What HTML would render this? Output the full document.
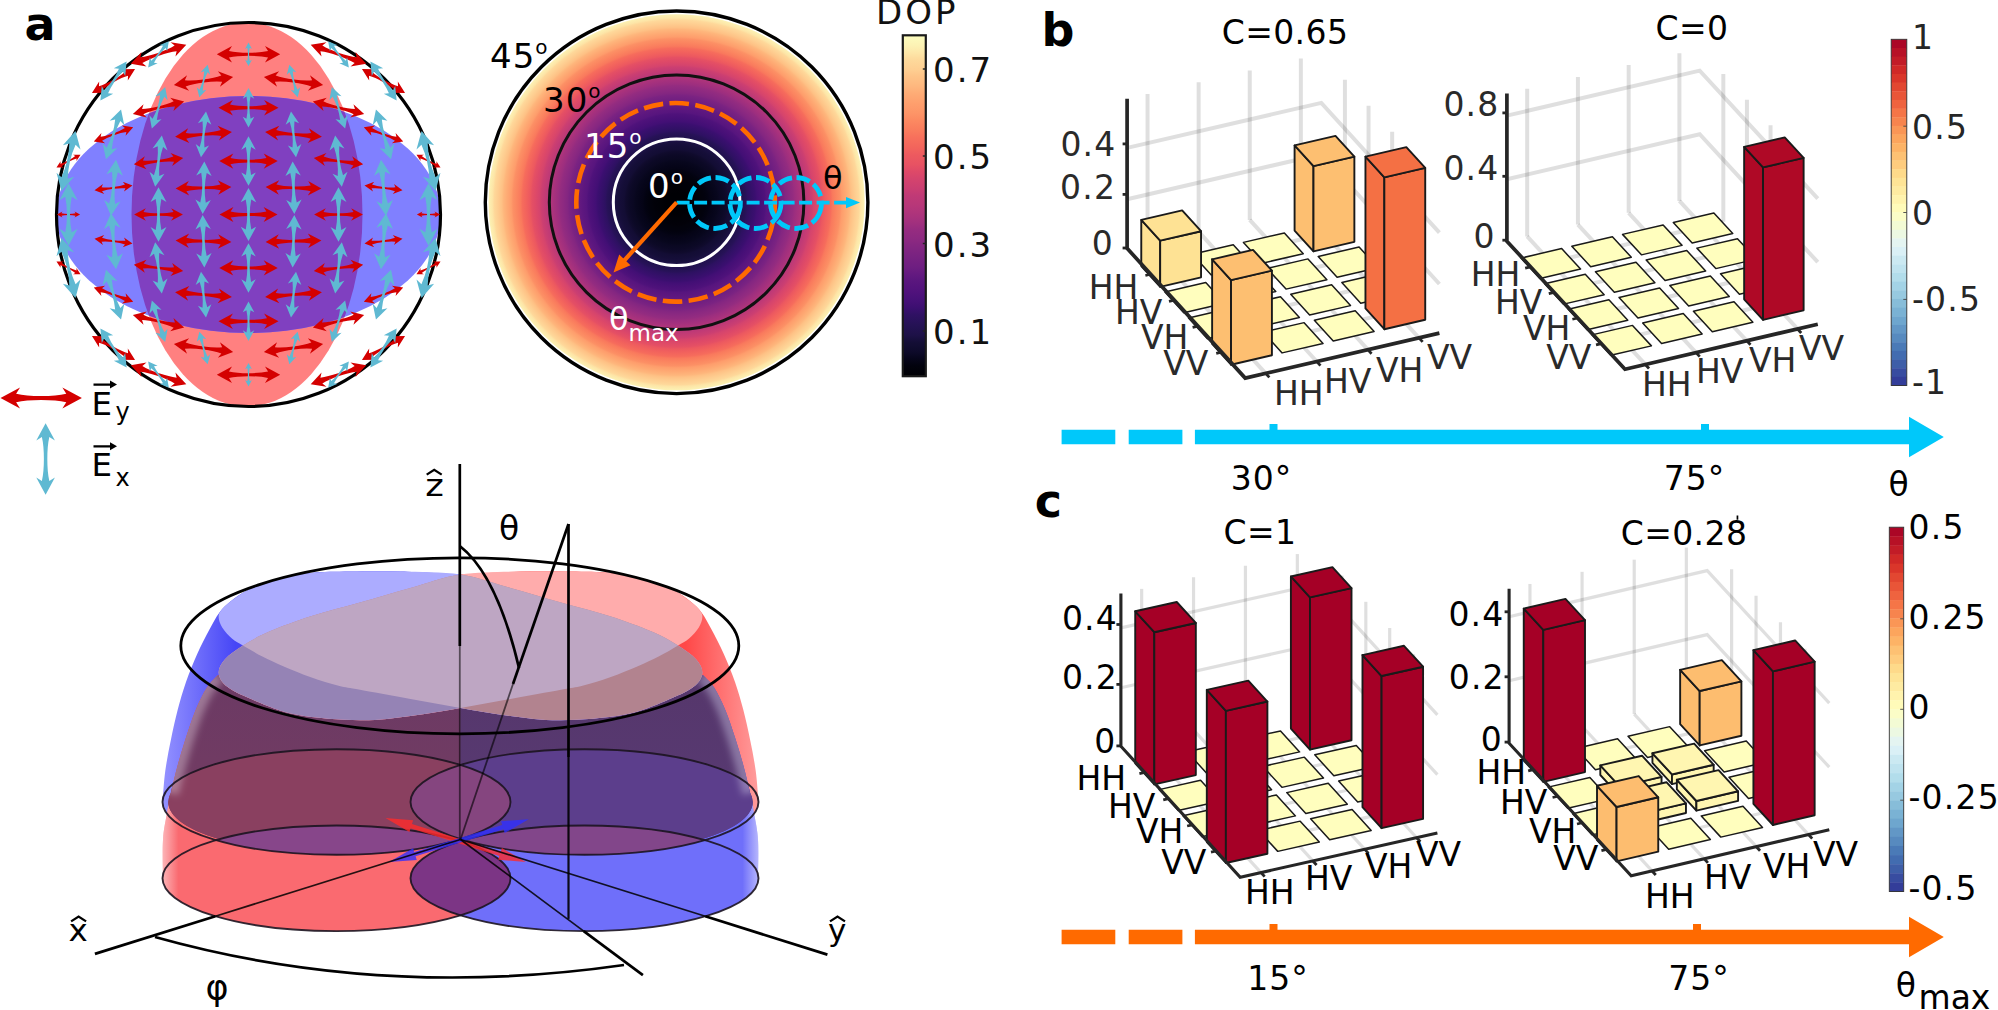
<!DOCTYPE html>
<html><head><meta charset="utf-8"><title>figure</title>
<style>html,body{margin:0;padding:0;background:#fff}svg{display:block}</style></head>
<body>
<svg width="1998" height="1010" viewBox="0 0 1998 1010">
<rect width="1998" height="1010" fill="#fff"/>
<clipPath id="fc"><circle cx="248.5" cy="214.5" r="192"/></clipPath>
<g clip-path="url(#fc)">
<ellipse cx="247.0" cy="214.5" rx="115.5" ry="192" fill="#ff8080"/>
<ellipse cx="248.5" cy="214.5" rx="192" ry="118.5" fill="#8080ff"/>
<clipPath id="fo"><ellipse cx="247.0" cy="214.5" rx="115.5" ry="192"/></clipPath>
<ellipse cx="248.5" cy="214.5" rx="192" ry="118.5" fill="#8040c0" clip-path="url(#fo)"/>
</g>
<circle cx="248.5" cy="214.5" r="192" fill="none" stroke="#000" stroke-width="3.2"/>
<path d="M29.38,0 L15.28,-7.64 L18.1,-3.06 Q11.05,-1.41 0,-1.41 Q-11.05,-1.41 -18.1,-3.06 L-15.28,-7.64 L-29.38,0 L-15.28,7.64 L-18.1,3.06 Q-11.05,1.41 0,1.41 Q11.05,1.41 18.1,3.06 L15.28,7.64 Z" fill="#d40000" transform="translate(158.5,54.3) rotate(-18.87)"/>
<path d="M31.72,0 L16.5,-8.25 L19.54,-3.3 Q11.93,-1.52 0,-1.52 Q-11.93,-1.52 -19.54,-3.3 L-16.5,-8.25 L-31.72,0 L-16.5,8.25 L-19.54,3.3 Q-11.93,1.52 0,1.52 Q11.93,1.52 19.54,3.3 L16.5,8.25 Z" fill="#d40000" transform="translate(248.5,54.3) rotate(0)"/>
<path d="M29.38,0 L15.28,-7.64 L18.1,-3.06 Q11.05,-1.41 0,-1.41 Q-11.05,-1.41 -18.1,-3.06 L-15.28,-7.64 L-29.38,0 L-15.28,7.64 L-18.1,3.06 Q-11.05,1.41 0,1.41 Q11.05,1.41 18.1,3.06 L15.28,7.64 Z" fill="#d40000" transform="translate(338.5,54.3) rotate(18.87)"/>
<path d="M24.65,0 L12.82,-6.41 L15.19,-2.56 Q9.27,-1.18 0,-1.18 Q-9.27,-1.18 -15.19,-2.56 L-12.82,-6.41 L-24.65,0 L-12.82,6.41 L-15.19,2.56 Q-9.27,1.18 0,1.18 Q9.27,1.18 15.19,2.56 L12.82,6.41 Z" fill="#d40000" transform="translate(113.5,81) rotate(-29.01)"/>
<path d="M29.88,0 L15.54,-7.77 L18.4,-3.11 Q11.23,-1.43 0,-1.43 Q-11.23,-1.43 -18.4,-3.11 L-15.54,-7.77 L-29.88,0 L-15.54,7.77 L-18.4,3.11 Q-11.23,1.43 0,1.43 Q11.23,1.43 18.4,3.11 L15.54,7.77 Z" fill="#d40000" transform="translate(203.5,81) rotate(-7.5)"/>
<path d="M29.88,0 L15.54,-7.77 L18.4,-3.11 Q11.23,-1.43 0,-1.43 Q-11.23,-1.43 -18.4,-3.11 L-15.54,-7.77 L-29.88,0 L-15.54,7.77 L-18.4,3.11 Q-11.23,1.43 0,1.43 Q11.23,1.43 18.4,3.11 L15.54,7.77 Z" fill="#d40000" transform="translate(293.5,81) rotate(7.5)"/>
<path d="M24.65,0 L12.82,-6.41 L15.19,-2.56 Q9.27,-1.18 0,-1.18 Q-9.27,-1.18 -15.19,-2.56 L-12.82,-6.41 L-24.65,0 L-12.82,6.41 L-15.19,2.56 Q-9.27,1.18 0,1.18 Q9.27,1.18 15.19,2.56 L12.82,6.41 Z" fill="#d40000" transform="translate(383.5,81) rotate(29.01)"/>
<path d="M26.39,0 L13.72,-6.86 L16.25,-2.74 Q9.92,-1.27 0,-1.27 Q-9.92,-1.27 -16.25,-2.74 L-13.72,-6.86 L-26.39,0 L-13.72,6.86 L-16.25,2.74 Q-9.92,1.27 0,1.27 Q9.92,1.27 16.25,2.74 L13.72,6.86 Z" fill="#d40000" transform="translate(158.5,107.7) rotate(-13.68)"/>
<path d="M30,0 L15.6,-7.8 L18.48,-3.12 Q11.28,-1.44 0,-1.44 Q-11.28,-1.44 -18.48,-3.12 L-15.6,-7.8 L-30,0 L-15.6,7.8 L-18.48,3.12 Q-11.28,1.44 0,1.44 Q11.28,1.44 18.48,3.12 L15.6,7.8 Z" fill="#d40000" transform="translate(248.5,107.7) rotate(0)"/>
<path d="M26.39,0 L13.72,-6.86 L16.25,-2.74 Q9.92,-1.27 0,-1.27 Q-9.92,-1.27 -16.25,-2.74 L-13.72,-6.86 L-26.39,0 L-13.72,6.86 L-16.25,2.74 Q-9.92,1.27 0,1.27 Q9.92,1.27 16.25,2.74 L13.72,6.86 Z" fill="#d40000" transform="translate(338.5,107.7) rotate(13.68)"/>
<path d="M20.94,0 L10.89,-5.44 L12.9,-2.18 Q7.87,-1 0,-1 Q-7.87,-1 -12.9,-2.18 L-10.89,-5.44 L-20.94,0 L-10.89,5.44 L-12.9,2.18 Q-7.87,1 0,1 Q7.87,1 12.9,2.18 L10.89,5.44 Z" fill="#d40000" transform="translate(113.5,134.4) rotate(-19.63)"/>
<path d="M28.5,0 L14.82,-7.41 L17.56,-2.96 Q10.72,-1.37 0,-1.37 Q-10.72,-1.37 -17.56,-2.96 L-14.82,-7.41 L-28.5,0 L-14.82,7.41 L-17.56,2.96 Q-10.72,1.37 0,1.37 Q10.72,1.37 17.56,2.96 L14.82,7.41 Z" fill="#d40000" transform="translate(203.5,134.4) rotate(-4.73)"/>
<path d="M28.5,0 L14.82,-7.41 L17.56,-2.96 Q10.72,-1.37 0,-1.37 Q-10.72,-1.37 -17.56,-2.96 L-14.82,-7.41 L-28.5,0 L-14.82,7.41 L-17.56,2.96 Q-10.72,1.37 0,1.37 Q10.72,1.37 17.56,2.96 L14.82,7.41 Z" fill="#d40000" transform="translate(293.5,134.4) rotate(4.73)"/>
<path d="M20.94,0 L10.89,-5.44 L12.9,-2.18 Q7.87,-1 0,-1 Q-7.87,-1 -12.9,-2.18 L-10.89,-5.44 L-20.94,0 L-10.89,5.44 L-12.9,2.18 Q-7.87,1 0,1 Q7.87,1 12.9,2.18 L10.89,5.44 Z" fill="#d40000" transform="translate(383.5,134.4) rotate(19.63)"/>
<path d="M13.61,0 L7.07,-3.54 L8.38,-1.41 Q5.12,-0.65 0,-0.65 Q-5.12,-0.65 -8.38,-1.41 L-7.07,-3.54 L-13.61,0 L-7.07,3.54 L-8.38,1.41 Q-5.12,0.65 0,0.65 Q5.12,0.65 8.38,1.41 L7.07,3.54 Z" fill="#d40000" transform="translate(68.5,161.1) rotate(-27.87)"/>
<path d="M24.89,0 L12.94,-6.47 L15.33,-2.59 Q9.36,-1.19 0,-1.19 Q-9.36,-1.19 -15.33,-2.59 L-12.94,-6.47 L-24.89,0 L-12.94,6.47 L-15.33,2.59 Q-9.36,1.19 0,1.19 Q9.36,1.19 15.33,2.59 L12.94,6.47 Z" fill="#d40000" transform="translate(158.5,161.1) rotate(-7.21)"/>
<path d="M29.23,0 L15.2,-7.6 L18.01,-3.04 Q10.99,-1.4 0,-1.4 Q-10.99,-1.4 -18.01,-3.04 L-15.2,-7.6 L-29.23,0 L-15.2,7.6 L-18.01,3.04 Q-10.99,1.4 0,1.4 Q10.99,1.4 18.01,3.04 L15.2,7.6 Z" fill="#d40000" transform="translate(248.5,161.1) rotate(0)"/>
<path d="M24.89,0 L12.94,-6.47 L15.33,-2.59 Q9.36,-1.19 0,-1.19 Q-9.36,-1.19 -15.33,-2.59 L-12.94,-6.47 L-24.89,0 L-12.94,6.47 L-15.33,2.59 Q-9.36,1.19 0,1.19 Q9.36,1.19 15.33,2.59 L12.94,6.47 Z" fill="#d40000" transform="translate(338.5,161.1) rotate(7.21)"/>
<path d="M13.61,0 L7.07,-3.54 L8.38,-1.41 Q5.12,-0.65 0,-0.65 Q-5.12,-0.65 -8.38,-1.41 L-7.07,-3.54 L-13.61,0 L-7.07,3.54 L-8.38,1.41 Q-5.12,0.65 0,0.65 Q5.12,0.65 8.38,1.41 L7.07,3.54 Z" fill="#d40000" transform="translate(428.5,161.1) rotate(27.87)"/>
<path d="M19.14,0 L9.95,-4.98 L11.79,-1.99 Q7.2,-0.92 0,-0.92 Q-7.2,-0.92 -11.79,-1.99 L-9.95,-4.98 L-19.14,0 L-9.95,4.98 L-11.79,1.99 Q-7.2,0.92 0,0.92 Q7.2,0.92 11.79,1.99 L9.95,4.98 Z" fill="#d40000" transform="translate(113.5,187.8) rotate(-7.02)"/>
<path d="M27.91,0 L14.51,-7.26 L17.19,-2.9 Q10.49,-1.34 0,-1.34 Q-10.49,-1.34 -17.19,-2.9 L-14.51,-7.26 L-27.91,0 L-14.51,7.26 L-17.19,2.9 Q-10.49,1.34 0,1.34 Q10.49,1.34 17.19,2.9 L14.51,7.26 Z" fill="#d40000" transform="translate(203.5,187.8) rotate(-1.61)"/>
<path d="M27.91,0 L14.51,-7.26 L17.19,-2.9 Q10.49,-1.34 0,-1.34 Q-10.49,-1.34 -17.19,-2.9 L-14.51,-7.26 L-27.91,0 L-14.51,7.26 L-17.19,2.9 Q-10.49,1.34 0,1.34 Q10.49,1.34 17.19,2.9 L14.51,7.26 Z" fill="#d40000" transform="translate(293.5,187.8) rotate(1.61)"/>
<path d="M19.14,0 L9.95,-4.98 L11.79,-1.99 Q7.2,-0.92 0,-0.92 Q-7.2,-0.92 -11.79,-1.99 L-9.95,-4.98 L-19.14,0 L-9.95,4.98 L-11.79,1.99 Q-7.2,0.92 0,0.92 Q7.2,0.92 11.79,1.99 L9.95,4.98 Z" fill="#d40000" transform="translate(383.5,187.8) rotate(7.02)"/>
<path d="M11.58,0 L6.02,-3.01 L7.13,-1.2 Q4.35,-0.56 0,-0.56 Q-4.35,-0.56 -7.13,-1.2 L-6.02,-3.01 L-11.58,0 L-6.02,3.01 L-7.13,1.2 Q-4.35,0.56 0,0.56 Q4.35,0.56 7.13,1.2 L6.02,3.01 Z" fill="#d40000" transform="translate(68.5,214.5) rotate(0)"/>
<path d="M24.41,0 L12.69,-6.35 L15.04,-2.54 Q9.18,-1.17 0,-1.17 Q-9.18,-1.17 -15.04,-2.54 L-12.69,-6.35 L-24.41,0 L-12.69,6.35 L-15.04,2.54 Q-9.18,1.17 0,1.17 Q9.18,1.17 15.04,2.54 L12.69,6.35 Z" fill="#d40000" transform="translate(158.5,214.5) rotate(0)"/>
<path d="M29,0 L15.08,-7.54 L17.86,-3.02 Q10.9,-1.39 0,-1.39 Q-10.9,-1.39 -17.86,-3.02 L-15.08,-7.54 L-29,0 L-15.08,7.54 L-17.86,3.02 Q-10.9,1.39 0,1.39 Q10.9,1.39 17.86,3.02 L15.08,7.54 Z" fill="#d40000" transform="translate(248.5,214.5) rotate(-0)"/>
<path d="M24.41,0 L12.69,-6.35 L15.04,-2.54 Q9.18,-1.17 0,-1.17 Q-9.18,-1.17 -15.04,-2.54 L-12.69,-6.35 L-24.41,0 L-12.69,6.35 L-15.04,2.54 Q-9.18,1.17 0,1.17 Q9.18,1.17 15.04,2.54 L12.69,6.35 Z" fill="#d40000" transform="translate(338.5,214.5) rotate(-0)"/>
<path d="M11.58,0 L6.02,-3.01 L7.13,-1.2 Q4.35,-0.56 0,-0.56 Q-4.35,-0.56 -7.13,-1.2 L-6.02,-3.01 L-11.58,0 L-6.02,3.01 L-7.13,1.2 Q-4.35,0.56 0,0.56 Q4.35,0.56 7.13,1.2 L6.02,3.01 Z" fill="#d40000" transform="translate(428.5,214.5) rotate(-0)"/>
<path d="M19.14,0 L9.95,-4.98 L11.79,-1.99 Q7.2,-0.92 0,-0.92 Q-7.2,-0.92 -11.79,-1.99 L-9.95,-4.98 L-19.14,0 L-9.95,4.98 L-11.79,1.99 Q-7.2,0.92 0,0.92 Q7.2,0.92 11.79,1.99 L9.95,4.98 Z" fill="#d40000" transform="translate(113.5,241.2) rotate(7.02)"/>
<path d="M27.91,0 L14.51,-7.26 L17.19,-2.9 Q10.49,-1.34 0,-1.34 Q-10.49,-1.34 -17.19,-2.9 L-14.51,-7.26 L-27.91,0 L-14.51,7.26 L-17.19,2.9 Q-10.49,1.34 0,1.34 Q10.49,1.34 17.19,2.9 L14.51,7.26 Z" fill="#d40000" transform="translate(203.5,241.2) rotate(1.61)"/>
<path d="M27.91,0 L14.51,-7.26 L17.19,-2.9 Q10.49,-1.34 0,-1.34 Q-10.49,-1.34 -17.19,-2.9 L-14.51,-7.26 L-27.91,0 L-14.51,7.26 L-17.19,2.9 Q-10.49,1.34 0,1.34 Q10.49,1.34 17.19,2.9 L14.51,7.26 Z" fill="#d40000" transform="translate(293.5,241.2) rotate(-1.61)"/>
<path d="M19.14,0 L9.95,-4.98 L11.79,-1.99 Q7.2,-0.92 0,-0.92 Q-7.2,-0.92 -11.79,-1.99 L-9.95,-4.98 L-19.14,0 L-9.95,4.98 L-11.79,1.99 Q-7.2,0.92 0,0.92 Q7.2,0.92 11.79,1.99 L9.95,4.98 Z" fill="#d40000" transform="translate(383.5,241.2) rotate(-7.02)"/>
<path d="M13.61,0 L7.07,-3.54 L8.38,-1.41 Q5.12,-0.65 0,-0.65 Q-5.12,-0.65 -8.38,-1.41 L-7.07,-3.54 L-13.61,0 L-7.07,3.54 L-8.38,1.41 Q-5.12,0.65 0,0.65 Q5.12,0.65 8.38,1.41 L7.07,3.54 Z" fill="#d40000" transform="translate(68.5,267.9) rotate(27.87)"/>
<path d="M24.89,0 L12.94,-6.47 L15.33,-2.59 Q9.36,-1.19 0,-1.19 Q-9.36,-1.19 -15.33,-2.59 L-12.94,-6.47 L-24.89,0 L-12.94,6.47 L-15.33,2.59 Q-9.36,1.19 0,1.19 Q9.36,1.19 15.33,2.59 L12.94,6.47 Z" fill="#d40000" transform="translate(158.5,267.9) rotate(7.21)"/>
<path d="M29.23,0 L15.2,-7.6 L18.01,-3.04 Q10.99,-1.4 0,-1.4 Q-10.99,-1.4 -18.01,-3.04 L-15.2,-7.6 L-29.23,0 L-15.2,7.6 L-18.01,3.04 Q-10.99,1.4 0,1.4 Q10.99,1.4 18.01,3.04 L15.2,7.6 Z" fill="#d40000" transform="translate(248.5,267.9) rotate(-0)"/>
<path d="M24.89,0 L12.94,-6.47 L15.33,-2.59 Q9.36,-1.19 0,-1.19 Q-9.36,-1.19 -15.33,-2.59 L-12.94,-6.47 L-24.89,0 L-12.94,6.47 L-15.33,2.59 Q-9.36,1.19 0,1.19 Q9.36,1.19 15.33,2.59 L12.94,6.47 Z" fill="#d40000" transform="translate(338.5,267.9) rotate(-7.21)"/>
<path d="M13.61,0 L7.07,-3.54 L8.38,-1.41 Q5.12,-0.65 0,-0.65 Q-5.12,-0.65 -8.38,-1.41 L-7.07,-3.54 L-13.61,0 L-7.07,3.54 L-8.38,1.41 Q-5.12,0.65 0,0.65 Q5.12,0.65 8.38,1.41 L7.07,3.54 Z" fill="#d40000" transform="translate(428.5,267.9) rotate(-27.87)"/>
<path d="M20.94,0 L10.89,-5.44 L12.9,-2.18 Q7.87,-1 0,-1 Q-7.87,-1 -12.9,-2.18 L-10.89,-5.44 L-20.94,0 L-10.89,5.44 L-12.9,2.18 Q-7.87,1 0,1 Q7.87,1 12.9,2.18 L10.89,5.44 Z" fill="#d40000" transform="translate(113.5,294.6) rotate(19.63)"/>
<path d="M28.5,0 L14.82,-7.41 L17.56,-2.96 Q10.72,-1.37 0,-1.37 Q-10.72,-1.37 -17.56,-2.96 L-14.82,-7.41 L-28.5,0 L-14.82,7.41 L-17.56,2.96 Q-10.72,1.37 0,1.37 Q10.72,1.37 17.56,2.96 L14.82,7.41 Z" fill="#d40000" transform="translate(203.5,294.6) rotate(4.73)"/>
<path d="M28.5,0 L14.82,-7.41 L17.56,-2.96 Q10.72,-1.37 0,-1.37 Q-10.72,-1.37 -17.56,-2.96 L-14.82,-7.41 L-28.5,0 L-14.82,7.41 L-17.56,2.96 Q-10.72,1.37 0,1.37 Q10.72,1.37 17.56,2.96 L14.82,7.41 Z" fill="#d40000" transform="translate(293.5,294.6) rotate(-4.73)"/>
<path d="M20.94,0 L10.89,-5.44 L12.9,-2.18 Q7.87,-1 0,-1 Q-7.87,-1 -12.9,-2.18 L-10.89,-5.44 L-20.94,0 L-10.89,5.44 L-12.9,2.18 Q-7.87,1 0,1 Q7.87,1 12.9,2.18 L10.89,5.44 Z" fill="#d40000" transform="translate(383.5,294.6) rotate(-19.63)"/>
<path d="M26.39,0 L13.72,-6.86 L16.25,-2.74 Q9.92,-1.27 0,-1.27 Q-9.92,-1.27 -16.25,-2.74 L-13.72,-6.86 L-26.39,0 L-13.72,6.86 L-16.25,2.74 Q-9.92,1.27 0,1.27 Q9.92,1.27 16.25,2.74 L13.72,6.86 Z" fill="#d40000" transform="translate(158.5,321.3) rotate(13.68)"/>
<path d="M30,0 L15.6,-7.8 L18.48,-3.12 Q11.28,-1.44 0,-1.44 Q-11.28,-1.44 -18.48,-3.12 L-15.6,-7.8 L-30,0 L-15.6,7.8 L-18.48,3.12 Q-11.28,1.44 0,1.44 Q11.28,1.44 18.48,3.12 L15.6,7.8 Z" fill="#d40000" transform="translate(248.5,321.3) rotate(-0)"/>
<path d="M26.39,0 L13.72,-6.86 L16.25,-2.74 Q9.92,-1.27 0,-1.27 Q-9.92,-1.27 -16.25,-2.74 L-13.72,-6.86 L-26.39,0 L-13.72,6.86 L-16.25,2.74 Q-9.92,1.27 0,1.27 Q9.92,1.27 16.25,2.74 L13.72,6.86 Z" fill="#d40000" transform="translate(338.5,321.3) rotate(-13.68)"/>
<path d="M24.65,0 L12.82,-6.41 L15.19,-2.56 Q9.27,-1.18 0,-1.18 Q-9.27,-1.18 -15.19,-2.56 L-12.82,-6.41 L-24.65,0 L-12.82,6.41 L-15.19,2.56 Q-9.27,1.18 0,1.18 Q9.27,1.18 15.19,2.56 L12.82,6.41 Z" fill="#d40000" transform="translate(113.5,348) rotate(29.01)"/>
<path d="M29.88,0 L15.54,-7.77 L18.4,-3.11 Q11.23,-1.43 0,-1.43 Q-11.23,-1.43 -18.4,-3.11 L-15.54,-7.77 L-29.88,0 L-15.54,7.77 L-18.4,3.11 Q-11.23,1.43 0,1.43 Q11.23,1.43 18.4,3.11 L15.54,7.77 Z" fill="#d40000" transform="translate(203.5,348) rotate(7.5)"/>
<path d="M29.88,0 L15.54,-7.77 L18.4,-3.11 Q11.23,-1.43 0,-1.43 Q-11.23,-1.43 -18.4,-3.11 L-15.54,-7.77 L-29.88,0 L-15.54,7.77 L-18.4,3.11 Q-11.23,1.43 0,1.43 Q11.23,1.43 18.4,3.11 L15.54,7.77 Z" fill="#d40000" transform="translate(293.5,348) rotate(-7.5)"/>
<path d="M24.65,0 L12.82,-6.41 L15.19,-2.56 Q9.27,-1.18 0,-1.18 Q-9.27,-1.18 -15.19,-2.56 L-12.82,-6.41 L-24.65,0 L-12.82,6.41 L-15.19,2.56 Q-9.27,1.18 0,1.18 Q9.27,1.18 15.19,2.56 L12.82,6.41 Z" fill="#d40000" transform="translate(383.5,348) rotate(-29.01)"/>
<path d="M29.38,0 L15.28,-7.64 L18.1,-3.06 Q11.05,-1.41 0,-1.41 Q-11.05,-1.41 -18.1,-3.06 L-15.28,-7.64 L-29.38,0 L-15.28,7.64 L-18.1,3.06 Q-11.05,1.41 0,1.41 Q11.05,1.41 18.1,3.06 L15.28,7.64 Z" fill="#d40000" transform="translate(158.5,374.7) rotate(18.87)"/>
<path d="M31.72,0 L16.5,-8.25 L19.54,-3.3 Q11.93,-1.52 0,-1.52 Q-11.93,-1.52 -19.54,-3.3 L-16.5,-8.25 L-31.72,0 L-16.5,8.25 L-19.54,3.3 Q-11.93,1.52 0,1.52 Q11.93,1.52 19.54,3.3 L16.5,8.25 Z" fill="#d40000" transform="translate(248.5,374.7) rotate(-0)"/>
<path d="M29.38,0 L15.28,-7.64 L18.1,-3.06 Q11.05,-1.41 0,-1.41 Q-11.05,-1.41 -18.1,-3.06 L-15.28,-7.64 L-29.38,0 L-15.28,7.64 L-18.1,3.06 Q-11.05,1.41 0,1.41 Q11.05,1.41 18.1,3.06 L15.28,7.64 Z" fill="#d40000" transform="translate(338.5,374.7) rotate(-18.87)"/>
<path d="M16.73,0 L7.66,-4.92 L9.47,-1.74 Q4.93,-0.8 0,-0.8 Q-4.93,-0.8 -9.47,-1.74 L-7.66,-4.92 L-16.73,0 L-7.66,4.92 L-9.47,1.74 Q-4.93,0.8 0,0.8 Q4.93,0.8 9.47,1.74 L7.66,4.92 Z" fill="#5fb9d2" transform="translate(158.5,54.3) rotate(128.2)"/>
<path d="M11.7,0 L5.35,-3.44 L6.62,-1.22 Q3.45,-0.56 0,-0.56 Q-3.45,-0.56 -6.62,-1.22 L-5.35,-3.44 L-11.7,0 L-5.35,3.44 L-6.62,1.22 Q-3.45,0.56 0,0.56 Q3.45,0.56 6.62,1.22 L5.35,3.44 Z" fill="#5fb9d2" transform="translate(248.5,54.3) rotate(90)"/>
<path d="M16.73,0 L7.66,-4.92 L9.47,-1.74 Q4.93,-0.8 0,-0.8 Q-4.93,-0.8 -9.47,-1.74 L-7.66,-4.92 L-16.73,0 L-7.66,4.92 L-9.47,1.74 Q-4.93,0.8 0,0.8 Q4.93,0.8 9.47,1.74 L7.66,4.92 Z" fill="#5fb9d2" transform="translate(338.5,54.3) rotate(51.8)"/>
<path d="M23.41,0 L10.71,-6.88 L13.25,-2.43 Q6.9,-1.12 0,-1.12 Q-6.9,-1.12 -13.25,-2.43 L-10.71,-6.88 L-23.41,0 L-10.71,6.88 L-13.25,2.43 Q-6.9,1.12 0,1.12 Q6.9,1.12 13.25,2.43 L10.71,6.88 Z" fill="#5fb9d2" transform="translate(113.5,81) rotate(124.1)"/>
<path d="M16.82,0 L7.7,-4.94 L9.52,-1.75 Q4.96,-0.81 0,-0.81 Q-4.96,-0.81 -9.52,-1.75 L-7.7,-4.94 L-16.82,0 L-7.7,4.94 L-9.52,1.75 Q-4.96,0.81 0,0.81 Q4.96,0.81 9.52,1.75 L7.7,4.94 Z" fill="#5fb9d2" transform="translate(203.5,81) rotate(104.35)"/>
<path d="M16.82,0 L7.7,-4.94 L9.52,-1.75 Q4.96,-0.81 0,-0.81 Q-4.96,-0.81 -9.52,-1.75 L-7.7,-4.94 L-16.82,0 L-7.7,4.94 L-9.52,1.75 Q-4.96,0.81 0,0.81 Q4.96,0.81 9.52,1.75 L7.7,4.94 Z" fill="#5fb9d2" transform="translate(293.5,81) rotate(75.65)"/>
<path d="M23.41,0 L10.71,-6.88 L13.25,-2.43 Q6.9,-1.12 0,-1.12 Q-6.9,-1.12 -13.25,-2.43 L-10.71,-6.88 L-23.41,0 L-10.71,6.88 L-13.25,2.43 Q-6.9,1.12 0,1.12 Q6.9,1.12 13.25,2.43 L10.71,6.88 Z" fill="#5fb9d2" transform="translate(383.5,81) rotate(55.9)"/>
<path d="M21.75,0 L9.95,-6.39 L12.31,-2.26 Q6.41,-1.04 0,-1.04 Q-6.41,-1.04 -12.31,-2.26 L-9.95,-6.39 L-21.75,0 L-9.95,6.39 L-12.31,2.26 Q-6.41,1.04 0,1.04 Q6.41,1.04 12.31,2.26 L9.95,6.39 Z" fill="#5fb9d2" transform="translate(158.5,107.7) rotate(107.86)"/>
<path d="M19.68,0 L9.01,-5.78 L11.14,-2.05 Q5.8,-0.94 0,-0.94 Q-5.8,-0.94 -11.14,-2.05 L-9.01,-5.78 L-19.68,0 L-9.01,5.78 L-11.14,2.05 Q-5.8,0.94 0,0.94 Q5.8,0.94 11.14,2.05 L9.01,5.78 Z" fill="#5fb9d2" transform="translate(248.5,107.7) rotate(90)"/>
<path d="M21.75,0 L9.95,-6.39 L12.31,-2.26 Q6.41,-1.04 0,-1.04 Q-6.41,-1.04 -12.31,-2.26 L-9.95,-6.39 L-21.75,0 L-9.95,6.39 L-12.31,2.26 Q-6.41,1.04 0,1.04 Q6.41,1.04 12.31,2.26 L9.95,6.39 Z" fill="#5fb9d2" transform="translate(338.5,107.7) rotate(72.14)"/>
<path d="M26.08,0 L11.93,-7.66 L14.76,-2.71 Q7.69,-1.25 0,-1.25 Q-7.69,-1.25 -14.76,-2.71 L-11.93,-7.66 L-26.08,0 L-11.93,7.66 L-14.76,2.71 Q-7.69,1.25 0,1.25 Q7.69,1.25 14.76,2.71 L11.93,7.66 Z" fill="#5fb9d2" transform="translate(113.5,134.4) rotate(106.81)"/>
<path d="M22.96,0 L10.51,-6.75 L13,-2.39 Q6.77,-1.1 0,-1.1 Q-6.77,-1.1 -13,-2.39 L-10.51,-6.75 L-22.96,0 L-10.51,6.75 L-13,2.39 Q-6.77,1.1 0,1.1 Q6.77,1.1 13,2.39 L10.51,6.75 Z" fill="#5fb9d2" transform="translate(203.5,134.4) rotate(96.26)"/>
<path d="M22.96,0 L10.51,-6.75 L13,-2.39 Q6.77,-1.1 0,-1.1 Q-6.77,-1.1 -13,-2.39 L-10.51,-6.75 L-22.96,0 L-10.51,6.75 L-13,2.39 Q-6.77,1.1 0,1.1 Q6.77,1.1 13,2.39 L10.51,6.75 Z" fill="#5fb9d2" transform="translate(293.5,134.4) rotate(83.74)"/>
<path d="M26.08,0 L11.93,-7.66 L14.76,-2.71 Q7.69,-1.25 0,-1.25 Q-7.69,-1.25 -14.76,-2.71 L-11.93,-7.66 L-26.08,0 L-11.93,7.66 L-14.76,2.71 Q-7.69,1.25 0,1.25 Q7.69,1.25 14.76,2.71 L11.93,7.66 Z" fill="#5fb9d2" transform="translate(383.5,134.4) rotate(73.19)"/>
<path d="M30.8,0 L14.09,-9.05 L17.44,-3.2 Q9.08,-1.48 0,-1.48 Q-9.08,-1.48 -17.44,-3.2 L-14.09,-9.05 L-30.8,0 L-14.09,9.05 L-17.44,3.2 Q-9.08,1.48 0,1.48 Q9.08,1.48 17.44,3.2 L14.09,9.05 Z" fill="#5fb9d2" transform="translate(68.5,161.1) rotate(103.06)"/>
<path d="M25.78,0 L11.8,-7.58 L14.6,-2.68 Q7.6,-1.24 0,-1.24 Q-7.6,-1.24 -14.6,-2.68 L-11.8,-7.58 L-25.78,0 L-11.8,7.58 L-14.6,2.68 Q-7.6,1.24 0,1.24 Q7.6,1.24 14.6,2.68 L11.8,7.58 Z" fill="#5fb9d2" transform="translate(158.5,161.1) rotate(97.43)"/>
<path d="M24.76,0 L11.33,-7.27 L14.01,-2.57 Q7.3,-1.19 0,-1.19 Q-7.3,-1.19 -14.01,-2.57 L-11.33,-7.27 L-24.76,0 L-11.33,7.27 L-14.01,2.57 Q-7.3,1.19 0,1.19 Q7.3,1.19 14.01,2.57 L11.33,7.27 Z" fill="#5fb9d2" transform="translate(248.5,161.1) rotate(90)"/>
<path d="M25.78,0 L11.8,-7.58 L14.6,-2.68 Q7.6,-1.24 0,-1.24 Q-7.6,-1.24 -14.6,-2.68 L-11.8,-7.58 L-25.78,0 L-11.8,7.58 L-14.6,2.68 Q-7.6,1.24 0,1.24 Q7.6,1.24 14.6,2.68 L11.8,7.58 Z" fill="#5fb9d2" transform="translate(338.5,161.1) rotate(82.57)"/>
<path d="M30.8,0 L14.09,-9.05 L17.44,-3.2 Q9.08,-1.48 0,-1.48 Q-9.08,-1.48 -17.44,-3.2 L-14.09,-9.05 L-30.8,0 L-14.09,9.05 L-17.44,3.2 Q-9.08,1.48 0,1.48 Q9.08,1.48 17.44,3.2 L14.09,9.05 Z" fill="#5fb9d2" transform="translate(428.5,161.1) rotate(76.94)"/>
<path d="M28.15,0 L12.88,-8.27 L15.94,-2.93 Q8.3,-1.35 0,-1.35 Q-8.3,-1.35 -15.94,-2.93 L-12.88,-8.27 L-28.15,0 L-12.88,8.27 L-15.94,2.93 Q-8.3,1.35 0,1.35 Q8.3,1.35 15.94,2.93 L12.88,8.27 Z" fill="#5fb9d2" transform="translate(113.5,187.8) rotate(95.1)"/>
<path d="M26.25,0 L12.01,-7.71 L14.86,-2.73 Q7.74,-1.26 0,-1.26 Q-7.74,-1.26 -14.86,-2.73 L-12.01,-7.71 L-26.25,0 L-12.01,7.71 L-14.86,2.73 Q-7.74,1.26 0,1.26 Q7.74,1.26 14.86,2.73 L12.01,7.71 Z" fill="#5fb9d2" transform="translate(203.5,187.8) rotate(91.83)"/>
<path d="M26.25,0 L12.01,-7.71 L14.86,-2.73 Q7.74,-1.26 0,-1.26 Q-7.74,-1.26 -14.86,-2.73 L-12.01,-7.71 L-26.25,0 L-12.01,7.71 L-14.86,2.73 Q-7.74,1.26 0,1.26 Q7.74,1.26 14.86,2.73 L12.01,7.71 Z" fill="#5fb9d2" transform="translate(293.5,187.8) rotate(88.17)"/>
<path d="M28.15,0 L12.88,-8.27 L15.94,-2.93 Q8.3,-1.35 0,-1.35 Q-8.3,-1.35 -15.94,-2.93 L-12.88,-8.27 L-28.15,0 L-12.88,8.27 L-15.94,2.93 Q-8.3,1.35 0,1.35 Q8.3,1.35 15.94,2.93 L12.88,8.27 Z" fill="#5fb9d2" transform="translate(383.5,187.8) rotate(84.9)"/>
<path d="M31.17,0 L14.26,-9.16 L17.64,-3.24 Q9.19,-1.5 0,-1.5 Q-9.19,-1.5 -17.64,-3.24 L-14.26,-9.16 L-31.17,0 L-14.26,9.16 L-17.64,3.24 Q-9.19,1.5 0,1.5 Q9.19,1.5 17.64,3.24 L14.26,9.16 Z" fill="#5fb9d2" transform="translate(68.5,214.5) rotate(90)"/>
<path d="M27.25,0 L12.47,-8.01 L15.42,-2.83 Q8.03,-1.31 0,-1.31 Q-8.03,-1.31 -15.42,-2.83 L-12.47,-8.01 L-27.25,0 L-12.47,8.01 L-15.42,2.83 Q-8.03,1.31 0,1.31 Q8.03,1.31 15.42,2.83 L12.47,8.01 Z" fill="#5fb9d2" transform="translate(158.5,214.5) rotate(90)"/>
<path d="M26.5,0 L12.13,-7.79 L15,-2.76 Q7.81,-1.27 0,-1.27 Q-7.81,-1.27 -15,-2.76 L-12.13,-7.79 L-26.5,0 L-12.13,7.79 L-15,2.76 Q-7.81,1.27 0,1.27 Q7.81,1.27 15,2.76 L12.13,7.79 Z" fill="#5fb9d2" transform="translate(248.5,214.5) rotate(90)"/>
<path d="M27.25,0 L12.47,-8.01 L15.42,-2.83 Q8.03,-1.31 0,-1.31 Q-8.03,-1.31 -15.42,-2.83 L-12.47,-8.01 L-27.25,0 L-12.47,8.01 L-15.42,2.83 Q-8.03,1.31 0,1.31 Q8.03,1.31 15.42,2.83 L12.47,8.01 Z" fill="#5fb9d2" transform="translate(338.5,214.5) rotate(90)"/>
<path d="M31.17,0 L14.26,-9.16 L17.64,-3.24 Q9.19,-1.5 0,-1.5 Q-9.19,-1.5 -17.64,-3.24 L-14.26,-9.16 L-31.17,0 L-14.26,9.16 L-17.64,3.24 Q-9.19,1.5 0,1.5 Q9.19,1.5 17.64,3.24 L14.26,9.16 Z" fill="#5fb9d2" transform="translate(428.5,214.5) rotate(90)"/>
<path d="M28.15,0 L12.88,-8.27 L15.94,-2.93 Q8.3,-1.35 0,-1.35 Q-8.3,-1.35 -15.94,-2.93 L-12.88,-8.27 L-28.15,0 L-12.88,8.27 L-15.94,2.93 Q-8.3,1.35 0,1.35 Q8.3,1.35 15.94,2.93 L12.88,8.27 Z" fill="#5fb9d2" transform="translate(113.5,241.2) rotate(84.9)"/>
<path d="M26.25,0 L12.01,-7.71 L14.86,-2.73 Q7.74,-1.26 0,-1.26 Q-7.74,-1.26 -14.86,-2.73 L-12.01,-7.71 L-26.25,0 L-12.01,7.71 L-14.86,2.73 Q-7.74,1.26 0,1.26 Q7.74,1.26 14.86,2.73 L12.01,7.71 Z" fill="#5fb9d2" transform="translate(203.5,241.2) rotate(88.17)"/>
<path d="M26.25,0 L12.01,-7.71 L14.86,-2.73 Q7.74,-1.26 0,-1.26 Q-7.74,-1.26 -14.86,-2.73 L-12.01,-7.71 L-26.25,0 L-12.01,7.71 L-14.86,2.73 Q-7.74,1.26 0,1.26 Q7.74,1.26 14.86,2.73 L12.01,7.71 Z" fill="#5fb9d2" transform="translate(293.5,241.2) rotate(91.83)"/>
<path d="M28.15,0 L12.88,-8.27 L15.94,-2.93 Q8.3,-1.35 0,-1.35 Q-8.3,-1.35 -15.94,-2.93 L-12.88,-8.27 L-28.15,0 L-12.88,8.27 L-15.94,2.93 Q-8.3,1.35 0,1.35 Q8.3,1.35 15.94,2.93 L12.88,8.27 Z" fill="#5fb9d2" transform="translate(383.5,241.2) rotate(95.1)"/>
<path d="M30.8,0 L14.09,-9.05 L17.44,-3.2 Q9.08,-1.48 0,-1.48 Q-9.08,-1.48 -17.44,-3.2 L-14.09,-9.05 L-30.8,0 L-14.09,9.05 L-17.44,3.2 Q-9.08,1.48 0,1.48 Q9.08,1.48 17.44,3.2 L14.09,9.05 Z" fill="#5fb9d2" transform="translate(68.5,267.9) rotate(76.94)"/>
<path d="M25.78,0 L11.8,-7.58 L14.6,-2.68 Q7.6,-1.24 0,-1.24 Q-7.6,-1.24 -14.6,-2.68 L-11.8,-7.58 L-25.78,0 L-11.8,7.58 L-14.6,2.68 Q-7.6,1.24 0,1.24 Q7.6,1.24 14.6,2.68 L11.8,7.58 Z" fill="#5fb9d2" transform="translate(158.5,267.9) rotate(82.57)"/>
<path d="M24.76,0 L11.33,-7.27 L14.01,-2.57 Q7.3,-1.19 0,-1.19 Q-7.3,-1.19 -14.01,-2.57 L-11.33,-7.27 L-24.76,0 L-11.33,7.27 L-14.01,2.57 Q-7.3,1.19 0,1.19 Q7.3,1.19 14.01,2.57 L11.33,7.27 Z" fill="#5fb9d2" transform="translate(248.5,267.9) rotate(90)"/>
<path d="M25.78,0 L11.8,-7.58 L14.6,-2.68 Q7.6,-1.24 0,-1.24 Q-7.6,-1.24 -14.6,-2.68 L-11.8,-7.58 L-25.78,0 L-11.8,7.58 L-14.6,2.68 Q-7.6,1.24 0,1.24 Q7.6,1.24 14.6,2.68 L11.8,7.58 Z" fill="#5fb9d2" transform="translate(338.5,267.9) rotate(97.43)"/>
<path d="M30.8,0 L14.09,-9.05 L17.44,-3.2 Q9.08,-1.48 0,-1.48 Q-9.08,-1.48 -17.44,-3.2 L-14.09,-9.05 L-30.8,0 L-14.09,9.05 L-17.44,3.2 Q-9.08,1.48 0,1.48 Q9.08,1.48 17.44,3.2 L14.09,9.05 Z" fill="#5fb9d2" transform="translate(428.5,267.9) rotate(103.06)"/>
<path d="M26.08,0 L11.93,-7.66 L14.76,-2.71 Q7.69,-1.25 0,-1.25 Q-7.69,-1.25 -14.76,-2.71 L-11.93,-7.66 L-26.08,0 L-11.93,7.66 L-14.76,2.71 Q-7.69,1.25 0,1.25 Q7.69,1.25 14.76,2.71 L11.93,7.66 Z" fill="#5fb9d2" transform="translate(113.5,294.6) rotate(73.19)"/>
<path d="M22.96,0 L10.51,-6.75 L13,-2.39 Q6.77,-1.1 0,-1.1 Q-6.77,-1.1 -13,-2.39 L-10.51,-6.75 L-22.96,0 L-10.51,6.75 L-13,2.39 Q-6.77,1.1 0,1.1 Q6.77,1.1 13,2.39 L10.51,6.75 Z" fill="#5fb9d2" transform="translate(203.5,294.6) rotate(83.74)"/>
<path d="M22.96,0 L10.51,-6.75 L13,-2.39 Q6.77,-1.1 0,-1.1 Q-6.77,-1.1 -13,-2.39 L-10.51,-6.75 L-22.96,0 L-10.51,6.75 L-13,2.39 Q-6.77,1.1 0,1.1 Q6.77,1.1 13,2.39 L10.51,6.75 Z" fill="#5fb9d2" transform="translate(293.5,294.6) rotate(96.26)"/>
<path d="M26.08,0 L11.93,-7.66 L14.76,-2.71 Q7.69,-1.25 0,-1.25 Q-7.69,-1.25 -14.76,-2.71 L-11.93,-7.66 L-26.08,0 L-11.93,7.66 L-14.76,2.71 Q-7.69,1.25 0,1.25 Q7.69,1.25 14.76,2.71 L11.93,7.66 Z" fill="#5fb9d2" transform="translate(383.5,294.6) rotate(106.81)"/>
<path d="M21.75,0 L9.95,-6.39 L12.31,-2.26 Q6.41,-1.04 0,-1.04 Q-6.41,-1.04 -12.31,-2.26 L-9.95,-6.39 L-21.75,0 L-9.95,6.39 L-12.31,2.26 Q-6.41,1.04 0,1.04 Q6.41,1.04 12.31,2.26 L9.95,6.39 Z" fill="#5fb9d2" transform="translate(158.5,321.3) rotate(72.14)"/>
<path d="M19.68,0 L9.01,-5.78 L11.14,-2.05 Q5.8,-0.94 0,-0.94 Q-5.8,-0.94 -11.14,-2.05 L-9.01,-5.78 L-19.68,0 L-9.01,5.78 L-11.14,2.05 Q-5.8,0.94 0,0.94 Q5.8,0.94 11.14,2.05 L9.01,5.78 Z" fill="#5fb9d2" transform="translate(248.5,321.3) rotate(90)"/>
<path d="M21.75,0 L9.95,-6.39 L12.31,-2.26 Q6.41,-1.04 0,-1.04 Q-6.41,-1.04 -12.31,-2.26 L-9.95,-6.39 L-21.75,0 L-9.95,6.39 L-12.31,2.26 Q-6.41,1.04 0,1.04 Q6.41,1.04 12.31,2.26 L9.95,6.39 Z" fill="#5fb9d2" transform="translate(338.5,321.3) rotate(107.86)"/>
<path d="M23.41,0 L10.71,-6.88 L13.25,-2.43 Q6.9,-1.12 0,-1.12 Q-6.9,-1.12 -13.25,-2.43 L-10.71,-6.88 L-23.41,0 L-10.71,6.88 L-13.25,2.43 Q-6.9,1.12 0,1.12 Q6.9,1.12 13.25,2.43 L10.71,6.88 Z" fill="#5fb9d2" transform="translate(113.5,348) rotate(55.9)"/>
<path d="M16.82,0 L7.7,-4.94 L9.52,-1.75 Q4.96,-0.81 0,-0.81 Q-4.96,-0.81 -9.52,-1.75 L-7.7,-4.94 L-16.82,0 L-7.7,4.94 L-9.52,1.75 Q-4.96,0.81 0,0.81 Q4.96,0.81 9.52,1.75 L7.7,4.94 Z" fill="#5fb9d2" transform="translate(203.5,348) rotate(75.65)"/>
<path d="M16.82,0 L7.7,-4.94 L9.52,-1.75 Q4.96,-0.81 0,-0.81 Q-4.96,-0.81 -9.52,-1.75 L-7.7,-4.94 L-16.82,0 L-7.7,4.94 L-9.52,1.75 Q-4.96,0.81 0,0.81 Q4.96,0.81 9.52,1.75 L7.7,4.94 Z" fill="#5fb9d2" transform="translate(293.5,348) rotate(104.35)"/>
<path d="M23.41,0 L10.71,-6.88 L13.25,-2.43 Q6.9,-1.12 0,-1.12 Q-6.9,-1.12 -13.25,-2.43 L-10.71,-6.88 L-23.41,0 L-10.71,6.88 L-13.25,2.43 Q-6.9,1.12 0,1.12 Q6.9,1.12 13.25,2.43 L10.71,6.88 Z" fill="#5fb9d2" transform="translate(383.5,348) rotate(124.1)"/>
<path d="M16.73,0 L7.66,-4.92 L9.47,-1.74 Q4.93,-0.8 0,-0.8 Q-4.93,-0.8 -9.47,-1.74 L-7.66,-4.92 L-16.73,0 L-7.66,4.92 L-9.47,1.74 Q-4.93,0.8 0,0.8 Q4.93,0.8 9.47,1.74 L7.66,4.92 Z" fill="#5fb9d2" transform="translate(158.5,374.7) rotate(51.8)"/>
<path d="M11.7,0 L5.35,-3.44 L6.62,-1.22 Q3.45,-0.56 0,-0.56 Q-3.45,-0.56 -6.62,-1.22 L-5.35,-3.44 L-11.7,0 L-5.35,3.44 L-6.62,1.22 Q-3.45,0.56 0,0.56 Q3.45,0.56 6.62,1.22 L5.35,3.44 Z" fill="#5fb9d2" transform="translate(248.5,374.7) rotate(90)"/>
<path d="M16.73,0 L7.66,-4.92 L9.47,-1.74 Q4.93,-0.8 0,-0.8 Q-4.93,-0.8 -9.47,-1.74 L-7.66,-4.92 L-16.73,0 L-7.66,4.92 L-9.47,1.74 Q-4.93,0.8 0,0.8 Q4.93,0.8 9.47,1.74 L7.66,4.92 Z" fill="#5fb9d2" transform="translate(338.5,374.7) rotate(128.2)"/>
<path d="M40.7,0 L21.16,-10.58 L25.07,-4.23 Q15.3,-1.95 0,-1.95 Q-15.3,-1.95 -25.07,-4.23 L-21.16,-10.58 L-40.7,0 L-21.16,10.58 L-25.07,4.23 Q-15.3,1.95 0,1.95 Q15.3,1.95 25.07,4.23 L21.16,10.58 Z" fill="#d40000" transform="translate(41.2,398) rotate(0)"/>
<path d="M35.8,0 L18.62,-9.31 L22.05,-3.72 Q13.46,-1.72 0,-1.72 Q-13.46,-1.72 -22.05,-3.72 L-18.62,-9.31 L-35.8,0 L-18.62,9.31 L-22.05,3.72 Q-13.46,1.72 0,1.72 Q13.46,1.72 22.05,3.72 L18.62,9.31 Z" fill="#5fb9d2" transform="translate(45.6,459) rotate(90)"/>
<text x="91.5" y="414.7" font-family="'DejaVu Sans','Liberation Sans',sans-serif" font-size="32.5">E</text>
<text x="115.5" y="419.7" font-family="'DejaVu Sans','Liberation Sans',sans-serif" font-size="24">y</text>
<path d="M93.5,383.5 H110 V380.6 L117,384.6 L110,388.6 V385.70000000000005 H93.5 Z" fill="#000"/>
<text x="91.5" y="476.1" font-family="'DejaVu Sans','Liberation Sans',sans-serif" font-size="32.5">E</text>
<text x="115.5" y="485.6" font-family="'DejaVu Sans','Liberation Sans',sans-serif" font-size="24">x</text>
<path d="M93.5,445.2 H110 V442.3 L117,446.3 L110,450.3 V447.40000000000003 H93.5 Z" fill="#000"/>
<radialGradient id="mg" cx="676.6" cy="202.3" r="188.0" gradientUnits="userSpaceOnUse"><stop offset="0" stop-color="#000004"/><stop offset="0.02" stop-color="#000004"/><stop offset="0.03" stop-color="#000004"/><stop offset="0.05" stop-color="#000004"/><stop offset="0.07" stop-color="#010005"/><stop offset="0.08" stop-color="#010106"/><stop offset="0.1" stop-color="#010108"/><stop offset="0.12" stop-color="#020109"/><stop offset="0.13" stop-color="#02020b"/><stop offset="0.15" stop-color="#02020d"/><stop offset="0.17" stop-color="#030312"/><stop offset="0.18" stop-color="#050416"/><stop offset="0.2" stop-color="#06051a"/><stop offset="0.22" stop-color="#08071e"/><stop offset="0.23" stop-color="#0a0822"/><stop offset="0.25" stop-color="#0c0926"/><stop offset="0.27" stop-color="#100b2d"/><stop offset="0.28" stop-color="#130d34"/><stop offset="0.3" stop-color="#150e38"/><stop offset="0.32" stop-color="#19103f"/><stop offset="0.33" stop-color="#1e1149"/><stop offset="0.35" stop-color="#221150"/><stop offset="0.37" stop-color="#271258"/><stop offset="0.38" stop-color="#2d1161"/><stop offset="0.4" stop-color="#341069"/><stop offset="0.42" stop-color="#3b0f70"/><stop offset="0.43" stop-color="#420f75"/><stop offset="0.45" stop-color="#491078"/><stop offset="0.47" stop-color="#4f127b"/><stop offset="0.48" stop-color="#57157e"/><stop offset="0.5" stop-color="#5d177f"/><stop offset="0.52" stop-color="#651a80"/><stop offset="0.53" stop-color="#6b1d81"/><stop offset="0.55" stop-color="#732081"/><stop offset="0.57" stop-color="#7b2382"/><stop offset="0.58" stop-color="#832681"/><stop offset="0.6" stop-color="#8c2981"/><stop offset="0.62" stop-color="#942c80"/><stop offset="0.63" stop-color="#9c2e7f"/><stop offset="0.65" stop-color="#a6317d"/><stop offset="0.67" stop-color="#b0357b"/><stop offset="0.68" stop-color="#b83779"/><stop offset="0.7" stop-color="#c23b75"/><stop offset="0.72" stop-color="#cc3f71"/><stop offset="0.73" stop-color="#d5446d"/><stop offset="0.75" stop-color="#de4968"/><stop offset="0.77" stop-color="#e55064"/><stop offset="0.78" stop-color="#ec5860"/><stop offset="0.8" stop-color="#f2625d"/><stop offset="0.82" stop-color="#f66c5c"/><stop offset="0.83" stop-color="#f9795d"/><stop offset="0.85" stop-color="#fb8560"/><stop offset="0.87" stop-color="#fc9065"/><stop offset="0.88" stop-color="#fe9d6c"/><stop offset="0.9" stop-color="#fea973"/><stop offset="0.92" stop-color="#feb67c"/><stop offset="0.93" stop-color="#fec185"/><stop offset="0.95" stop-color="#fecd90"/><stop offset="0.97" stop-color="#fed89a"/><stop offset="0.98" stop-color="#fde5a7"/><stop offset="1" stop-color="#fcf2b4"/></radialGradient>
<circle cx="676.6" cy="202.3" r="188.0" fill="url(#mg)"/>
<circle cx="676.6" cy="202.3" r="191.3" fill="none" stroke="#000" stroke-width="3.4"/>
<circle cx="676.6" cy="202.3" r="127.3" fill="none" stroke="#111" stroke-width="3"/>
<circle cx="676.6" cy="202.3" r="63.3" fill="none" stroke="#fff" stroke-width="3"/>
<circle cx="675.6" cy="202.3" r="99.3" fill="none" stroke="#ff6a00" stroke-width="4.6" stroke-dasharray="19.5 6.5" transform="rotate(-4 676.6 202.3)"/>
<circle cx="715" cy="203" r="25.5" fill="none" stroke="#00c8fa" stroke-width="4.8" stroke-dasharray="14 4.5" transform="rotate(20 715 203)"/>
<circle cx="755.5" cy="203" r="25.5" fill="none" stroke="#00c8fa" stroke-width="4.8" stroke-dasharray="14 4.5" transform="rotate(20 755.5 203)"/>
<circle cx="796" cy="203" r="25.5" fill="none" stroke="#00c8fa" stroke-width="4.8" stroke-dasharray="14 4.5" transform="rotate(20 796 203)"/>
<path d="M676.6,202.6 H848" stroke="#00c8fa" stroke-width="3.6" stroke-dasharray="13 4.5" fill="none"/>
<path d="M846,197 L860,202.6 L846,208.2 Z" fill="#00c8fa"/>
<path d="M676.6,202.3 L622,263" stroke="#ff6a00" stroke-width="4.2" fill="none"/>
<path d="M613.5,272.5 L619.2,254.5 L630.5,265.2 Z" fill="#ff6a00"/>
<text x="490" y="68" font-family="'DejaVu Sans','Liberation Sans',sans-serif" font-size="34" letter-spacing="1" fill="#000">45<tspan font-size="20" dy="-14">o</tspan></text>
<text x="543" y="112" font-family="'DejaVu Sans','Liberation Sans',sans-serif" font-size="34" letter-spacing="1" fill="#000">30<tspan font-size="20" dy="-14">o</tspan></text>
<text x="584" y="158" font-family="'DejaVu Sans','Liberation Sans',sans-serif" font-size="34" letter-spacing="1" fill="#fff">15<tspan font-size="20" dy="-14">o</tspan></text>
<text x="648" y="198" font-family="'DejaVu Sans','Liberation Sans',sans-serif" font-size="34" letter-spacing="1" fill="#fff">0<tspan font-size="20" dy="-14">o</tspan></text>
<text x="823" y="189" font-family="'DejaVu Sans','Liberation Sans',sans-serif" font-size="32" fill="#000">θ</text>
<text x="609" y="330" font-family="'DejaVu Sans','Liberation Sans',sans-serif" font-size="32" fill="#fff">θ<tspan font-size="23" dy="11">max</tspan></text>
<linearGradient id="mgb" x1="0" y1="0" x2="0" y2="1"><stop offset="0" stop-color="#fcfdbf"/><stop offset="0.03" stop-color="#fcf2b4"/><stop offset="0.05" stop-color="#fde7a9"/><stop offset="0.07" stop-color="#fdda9c"/><stop offset="0.1" stop-color="#fecf92"/><stop offset="0.12" stop-color="#fec488"/><stop offset="0.15" stop-color="#feb77e"/><stop offset="0.17" stop-color="#feac76"/><stop offset="0.2" stop-color="#fe9f6d"/><stop offset="0.23" stop-color="#fd9467"/><stop offset="0.25" stop-color="#fc8961"/><stop offset="0.28" stop-color="#f97b5d"/><stop offset="0.3" stop-color="#f7705c"/><stop offset="0.33" stop-color="#f2645c"/><stop offset="0.35" stop-color="#ed5a5f"/><stop offset="0.38" stop-color="#e75263"/><stop offset="0.4" stop-color="#de4968"/><stop offset="0.42" stop-color="#d5446d"/><stop offset="0.45" stop-color="#ca3e72"/><stop offset="0.47" stop-color="#c03a76"/><stop offset="0.5" stop-color="#b73779"/><stop offset="0.53" stop-color="#ab337c"/><stop offset="0.55" stop-color="#a1307e"/><stop offset="0.57" stop-color="#962c80"/><stop offset="0.6" stop-color="#8c2981"/><stop offset="0.62" stop-color="#832681"/><stop offset="0.65" stop-color="#782281"/><stop offset="0.68" stop-color="#6e1e81"/><stop offset="0.7" stop-color="#641a80"/><stop offset="0.72" stop-color="#5a167e"/><stop offset="0.75" stop-color="#51127c"/><stop offset="0.78" stop-color="#451077"/><stop offset="0.8" stop-color="#3b0f70"/><stop offset="0.82" stop-color="#2f1163"/><stop offset="0.85" stop-color="#251255"/><stop offset="0.88" stop-color="#1d1147"/><stop offset="0.9" stop-color="#140e36"/><stop offset="0.93" stop-color="#0d0a29"/><stop offset="0.95" stop-color="#06051a"/><stop offset="0.97" stop-color="#02020d"/><stop offset="1" stop-color="#000004"/></linearGradient>
<rect x="902.8" y="35.3" width="23.0" height="340.9" fill="url(#mgb)" stroke="#1a1a1a" stroke-width="2.2"/>
<path d="M922.8,69 H925.8" stroke="#222" stroke-width="1.4"/>
<text x="933" y="82.2" font-family="'DejaVu Sans','Liberation Sans',sans-serif" font-size="34" letter-spacing="2" fill="#111">0.7</text>
<path d="M922.8,156 H925.8" stroke="#222" stroke-width="1.4"/>
<text x="933" y="169.2" font-family="'DejaVu Sans','Liberation Sans',sans-serif" font-size="34" letter-spacing="2" fill="#111">0.5</text>
<path d="M922.8,243.5 H925.8" stroke="#222" stroke-width="1.4"/>
<text x="933" y="256.7" font-family="'DejaVu Sans','Liberation Sans',sans-serif" font-size="34" letter-spacing="2" fill="#111">0.3</text>
<path d="M922.8,331 H925.8" stroke="#222" stroke-width="1.4"/>
<text x="933" y="344.2" font-family="'DejaVu Sans','Liberation Sans',sans-serif" font-size="34" letter-spacing="2" fill="#111">0.1</text>
<text x="876" y="24" font-family="'DejaVu Sans','Liberation Sans',sans-serif" font-size="34" fill="#111" letter-spacing="3">DOP</text>
<path d="M1147.54,243.56 V94.06" stroke="#000" stroke-opacity="0.125" stroke-width="4.0" fill="none"/>
<path d="M1147.54,243.56 L1265.64,373.36" stroke="#000" stroke-opacity="0.125" stroke-width="4.0" fill="none"/>
<path d="M1198.65,231.72 V82.22" stroke="#000" stroke-opacity="0.125" stroke-width="4.0" fill="none"/>
<path d="M1198.65,231.72 L1316.75,361.52" stroke="#000" stroke-opacity="0.125" stroke-width="4.0" fill="none"/>
<path d="M1249.75,219.88 V70.38" stroke="#000" stroke-opacity="0.125" stroke-width="4.0" fill="none"/>
<path d="M1249.75,219.88 L1367.85,349.68" stroke="#000" stroke-opacity="0.125" stroke-width="4.0" fill="none"/>
<path d="M1300.86,208.04 V58.54" stroke="#000" stroke-opacity="0.125" stroke-width="4.0" fill="none"/>
<path d="M1300.86,208.04 L1418.96,337.84" stroke="#000" stroke-opacity="0.125" stroke-width="4.0" fill="none"/>
<path d="M1344.92,229.26 V79.76" stroke="#000" stroke-opacity="0.125" stroke-width="4.0" fill="none"/>
<path d="M1344.92,229.26 L1150.72,274.26" stroke="#000" stroke-opacity="0.125" stroke-width="4.0" fill="none"/>
<path d="M1368.54,255.22 V105.72" stroke="#000" stroke-opacity="0.125" stroke-width="4.0" fill="none"/>
<path d="M1368.54,255.22 L1174.34,300.22" stroke="#000" stroke-opacity="0.125" stroke-width="4.0" fill="none"/>
<path d="M1392.16,281.18 V131.68" stroke="#000" stroke-opacity="0.125" stroke-width="4.0" fill="none"/>
<path d="M1392.16,281.18 L1197.96,326.18" stroke="#000" stroke-opacity="0.125" stroke-width="4.0" fill="none"/>
<path d="M1415.78,307.14 V157.64" stroke="#000" stroke-opacity="0.125" stroke-width="4.0" fill="none"/>
<path d="M1415.78,307.14 L1221.58,352.14" stroke="#000" stroke-opacity="0.125" stroke-width="4.0" fill="none"/>
<path d="M1127.1,199.2 L1321.3,154.2 L1439.4,284" stroke="#000" stroke-opacity="0.125" stroke-width="4.0" fill="none"/>
<path d="M1127.1,147.9 L1321.3,102.9 L1439.4,232.7" stroke="#000" stroke-opacity="0.125" stroke-width="4.0" fill="none"/>
<path d="M1294.59,230.55 L1313.48,251.32 L1313.48,166.16 L1294.59,145.39 Z" fill="#fdbf71" stroke="#1a1a1a" stroke-width="1.9" stroke-linejoin="round"/>
<path d="M1313.48,251.32 L1354.37,241.84 L1354.37,156.69 L1313.48,166.16 Z" fill="#fdbf71" stroke="#1a1a1a" stroke-width="1.9" stroke-linejoin="round"/>
<path d="M1294.59,145.39 L1335.47,135.92 L1354.37,156.69 L1313.48,166.16 Z" fill="#fdbf71" stroke="#1a1a1a" stroke-width="1.9" stroke-linejoin="round"/>
<path d="M1243.48,242.39 L1284.37,232.92 L1303.26,253.69 L1262.38,263.16 Z" fill="#fffebe" stroke="#1a1a1a" stroke-width="1.5" stroke-linejoin="round"/>
<path d="M1192.38,254.23 L1233.26,244.76 L1252.16,265.53 L1211.27,275 Z" fill="#fffebe" stroke="#1a1a1a" stroke-width="1.5" stroke-linejoin="round"/>
<path d="M1141.27,266.08 L1160.17,286.84 L1160.17,240.67 L1141.27,219.91 Z" fill="#fee294" stroke="#1a1a1a" stroke-width="1.9" stroke-linejoin="round"/>
<path d="M1160.17,286.84 L1201.05,277.37 L1201.05,231.2 L1160.17,240.67 Z" fill="#fee294" stroke="#1a1a1a" stroke-width="1.9" stroke-linejoin="round"/>
<path d="M1141.27,219.91 L1182.16,210.43 L1201.05,231.2 L1160.17,240.67 Z" fill="#fee294" stroke="#1a1a1a" stroke-width="1.9" stroke-linejoin="round"/>
<path d="M1318.21,256.51 L1359.09,247.04 L1377.99,267.8 L1337.1,277.28 Z" fill="#fffebe" stroke="#1a1a1a" stroke-width="1.5" stroke-linejoin="round"/>
<path d="M1267.1,268.35 L1307.99,258.88 L1326.88,279.65 L1286,289.12 Z" fill="#fffebe" stroke="#1a1a1a" stroke-width="1.5" stroke-linejoin="round"/>
<path d="M1216,280.19 L1256.88,270.72 L1275.78,291.49 L1234.89,300.96 Z" fill="#fffebe" stroke="#1a1a1a" stroke-width="1.5" stroke-linejoin="round"/>
<path d="M1164.89,292.04 L1205.78,282.56 L1224.67,303.33 L1183.79,312.8 Z" fill="#fffebe" stroke="#1a1a1a" stroke-width="1.5" stroke-linejoin="round"/>
<path d="M1341.83,282.47 L1382.71,273 L1401.61,293.76 L1360.72,303.24 Z" fill="#fffebe" stroke="#1a1a1a" stroke-width="1.5" stroke-linejoin="round"/>
<path d="M1290.72,294.31 L1331.61,284.84 L1350.5,305.61 L1309.62,315.08 Z" fill="#fffebe" stroke="#1a1a1a" stroke-width="1.5" stroke-linejoin="round"/>
<path d="M1239.62,306.15 L1280.5,296.68 L1299.4,317.45 L1258.51,326.92 Z" fill="#fffebe" stroke="#1a1a1a" stroke-width="1.5" stroke-linejoin="round"/>
<path d="M1188.51,318 L1229.4,308.52 L1248.29,329.29 L1207.41,338.76 Z" fill="#fffebe" stroke="#1a1a1a" stroke-width="1.5" stroke-linejoin="round"/>
<path d="M1365.45,308.43 L1384.34,329.2 L1384.34,177.35 L1365.45,156.58 Z" fill="#f47044" stroke="#1a1a1a" stroke-width="1.9" stroke-linejoin="round"/>
<path d="M1384.34,329.2 L1425.23,319.72 L1425.23,167.88 L1384.34,177.35 Z" fill="#f47044" stroke="#1a1a1a" stroke-width="1.9" stroke-linejoin="round"/>
<path d="M1365.45,156.58 L1406.33,147.11 L1425.23,167.88 L1384.34,177.35 Z" fill="#f47044" stroke="#1a1a1a" stroke-width="1.9" stroke-linejoin="round"/>
<path d="M1314.34,320.27 L1355.23,310.8 L1374.12,331.57 L1333.24,341.04 Z" fill="#fffebe" stroke="#1a1a1a" stroke-width="1.5" stroke-linejoin="round"/>
<path d="M1263.24,332.11 L1304.12,322.64 L1323.02,343.41 L1282.13,352.88 Z" fill="#fffebe" stroke="#1a1a1a" stroke-width="1.5" stroke-linejoin="round"/>
<path d="M1212.13,343.96 L1231.03,364.72 L1231.03,280.08 L1212.13,259.31 Z" fill="#fdbf71" stroke="#1a1a1a" stroke-width="1.9" stroke-linejoin="round"/>
<path d="M1231.03,364.72 L1271.91,355.25 L1271.91,270.61 L1231.03,280.08 Z" fill="#fdbf71" stroke="#1a1a1a" stroke-width="1.9" stroke-linejoin="round"/>
<path d="M1212.13,259.31 L1253.02,249.84 L1271.91,270.61 L1231.03,280.08 Z" fill="#fdbf71" stroke="#1a1a1a" stroke-width="1.9" stroke-linejoin="round"/>
<path d="M1127.1,98.8 L1127.1,248.3 L1245.2,378.1 L1439.4,333.1" stroke="#262626" stroke-width="3.7" fill="none" stroke-linejoin="miter"/>
<path d="M1150.72,274.26 L1145.36,275.5" stroke="#262626" stroke-width="2.8"/>
<text x="1138.3" y="298.7" text-anchor="end" font-family="'DejaVu Sans','Liberation Sans',sans-serif" font-size="33" fill="#2a2a2a">HH</text>
<path d="M1265.64,373.36 L1269.34,377.43" stroke="#262626" stroke-width="2.8"/>
<text x="1274" y="405.2" font-family="'DejaVu Sans','Liberation Sans',sans-serif" font-size="33" fill="#2a2a2a">HH</text>
<path d="M1174.34,300.22 L1168.98,301.46" stroke="#262626" stroke-width="2.8"/>
<text x="1162.4" y="323.7" text-anchor="end" font-family="'DejaVu Sans','Liberation Sans',sans-serif" font-size="33" fill="#2a2a2a">HV</text>
<path d="M1316.75,361.52 L1320.45,365.59" stroke="#262626" stroke-width="2.8"/>
<text x="1324" y="393.2" font-family="'DejaVu Sans','Liberation Sans',sans-serif" font-size="33" fill="#2a2a2a">HV</text>
<path d="M1197.96,326.18 L1192.6,327.42" stroke="#262626" stroke-width="2.8"/>
<text x="1188.3" y="348.7" text-anchor="end" font-family="'DejaVu Sans','Liberation Sans',sans-serif" font-size="33" fill="#2a2a2a">VH</text>
<path d="M1367.85,349.68 L1371.55,353.75" stroke="#262626" stroke-width="2.8"/>
<text x="1376" y="382.2" font-family="'DejaVu Sans','Liberation Sans',sans-serif" font-size="33" fill="#2a2a2a">VH</text>
<path d="M1221.58,352.14 L1216.22,353.38" stroke="#262626" stroke-width="2.8"/>
<text x="1208.4" y="374.5" text-anchor="end" font-family="'DejaVu Sans','Liberation Sans',sans-serif" font-size="33" fill="#2a2a2a">VV</text>
<path d="M1418.96,337.84 L1422.66,341.9" stroke="#262626" stroke-width="2.8"/>
<text x="1427" y="369.1" font-family="'DejaVu Sans','Liberation Sans',sans-serif" font-size="33" fill="#2a2a2a">VV</text>
<path d="M1122.6,248 H1127.1" stroke="#262626" stroke-width="2.8"/>
<text x="1113.9" y="255.3" text-anchor="end" font-family="'DejaVu Sans','Liberation Sans',sans-serif" font-size="33" letter-spacing="1.2" fill="#2a2a2a">0</text>
<path d="M1122.6,194.4 H1127.1" stroke="#262626" stroke-width="2.8"/>
<text x="1116.2" y="198.9" text-anchor="end" font-family="'DejaVu Sans','Liberation Sans',sans-serif" font-size="33" letter-spacing="1.2" fill="#2a2a2a">0.2</text>
<path d="M1122.6,143.9 H1127.1" stroke="#262626" stroke-width="2.8"/>
<text x="1116.5" y="155.6" text-anchor="end" font-family="'DejaVu Sans','Liberation Sans',sans-serif" font-size="33" letter-spacing="1.2" fill="#2a2a2a">0.4</text>
<path d="M1527.19,236.46 V88.76" stroke="#000" stroke-opacity="0.125" stroke-width="4.0" fill="none"/>
<path d="M1527.19,236.46 L1645.29,364.46" stroke="#000" stroke-opacity="0.125" stroke-width="4.0" fill="none"/>
<path d="M1577.93,224.62 V76.92" stroke="#000" stroke-opacity="0.125" stroke-width="4.0" fill="none"/>
<path d="M1577.93,224.62 L1696.03,352.62" stroke="#000" stroke-opacity="0.125" stroke-width="4.0" fill="none"/>
<path d="M1628.67,212.78 V65.08" stroke="#000" stroke-opacity="0.125" stroke-width="4.0" fill="none"/>
<path d="M1628.67,212.78 L1746.77,340.78" stroke="#000" stroke-opacity="0.125" stroke-width="4.0" fill="none"/>
<path d="M1679.41,200.94 V53.24" stroke="#000" stroke-opacity="0.125" stroke-width="4.0" fill="none"/>
<path d="M1679.41,200.94 L1797.51,328.94" stroke="#000" stroke-opacity="0.125" stroke-width="4.0" fill="none"/>
<path d="M1723.32,221.8 V74.1" stroke="#000" stroke-opacity="0.125" stroke-width="4.0" fill="none"/>
<path d="M1723.32,221.8 L1530.52,266.8" stroke="#000" stroke-opacity="0.125" stroke-width="4.0" fill="none"/>
<path d="M1746.94,247.4 V99.7" stroke="#000" stroke-opacity="0.125" stroke-width="4.0" fill="none"/>
<path d="M1746.94,247.4 L1554.14,292.4" stroke="#000" stroke-opacity="0.125" stroke-width="4.0" fill="none"/>
<path d="M1770.56,273 V125.3" stroke="#000" stroke-opacity="0.125" stroke-width="4.0" fill="none"/>
<path d="M1770.56,273 L1577.76,318" stroke="#000" stroke-opacity="0.125" stroke-width="4.0" fill="none"/>
<path d="M1794.18,298.6 V150.9" stroke="#000" stroke-opacity="0.125" stroke-width="4.0" fill="none"/>
<path d="M1794.18,298.6 L1601.38,343.6" stroke="#000" stroke-opacity="0.125" stroke-width="4.0" fill="none"/>
<path d="M1506.9,179.18 L1699.7,134.18 L1817.8,262.18" stroke="#000" stroke-opacity="0.125" stroke-width="4.0" fill="none"/>
<path d="M1506.9,115.66 L1699.7,70.66 L1817.8,198.66" stroke="#000" stroke-opacity="0.125" stroke-width="4.0" fill="none"/>
<path d="M1673.28,222.53 L1713.87,213.06 L1732.77,233.54 L1692.18,243.01 Z" fill="#fffebe" stroke="#1a1a1a" stroke-width="1.5" stroke-linejoin="round"/>
<path d="M1622.55,234.38 L1663.14,224.9 L1682.03,245.38 L1641.44,254.86 Z" fill="#fffebe" stroke="#1a1a1a" stroke-width="1.5" stroke-linejoin="round"/>
<path d="M1571.81,246.22 L1612.4,236.74 L1631.29,257.22 L1590.7,266.7 Z" fill="#fffebe" stroke="#1a1a1a" stroke-width="1.5" stroke-linejoin="round"/>
<path d="M1521.07,258.06 L1561.66,248.59 L1580.56,269.07 L1539.97,278.54 Z" fill="#fffebe" stroke="#1a1a1a" stroke-width="1.5" stroke-linejoin="round"/>
<path d="M1696.9,248.13 L1737.49,238.66 L1756.39,259.14 L1715.8,268.61 Z" fill="#fffebe" stroke="#1a1a1a" stroke-width="1.5" stroke-linejoin="round"/>
<path d="M1646.17,259.98 L1686.76,250.5 L1705.65,270.98 L1665.06,280.46 Z" fill="#fffebe" stroke="#1a1a1a" stroke-width="1.5" stroke-linejoin="round"/>
<path d="M1595.43,271.82 L1636.02,262.34 L1654.91,282.82 L1614.32,292.3 Z" fill="#fffebe" stroke="#1a1a1a" stroke-width="1.5" stroke-linejoin="round"/>
<path d="M1544.69,283.66 L1585.28,274.19 L1604.18,294.67 L1563.59,304.14 Z" fill="#fffebe" stroke="#1a1a1a" stroke-width="1.5" stroke-linejoin="round"/>
<path d="M1720.52,273.73 L1761.11,264.26 L1780.01,284.74 L1739.42,294.21 Z" fill="#fffebe" stroke="#1a1a1a" stroke-width="1.5" stroke-linejoin="round"/>
<path d="M1669.79,285.58 L1710.38,276.1 L1729.27,296.58 L1688.68,306.06 Z" fill="#fffebe" stroke="#1a1a1a" stroke-width="1.5" stroke-linejoin="round"/>
<path d="M1619.05,297.42 L1659.64,287.94 L1678.53,308.42 L1637.94,317.9 Z" fill="#fffebe" stroke="#1a1a1a" stroke-width="1.5" stroke-linejoin="round"/>
<path d="M1568.31,309.26 L1608.9,299.79 L1627.8,320.27 L1587.21,329.74 Z" fill="#fffebe" stroke="#1a1a1a" stroke-width="1.5" stroke-linejoin="round"/>
<path d="M1744.14,299.33 L1763.04,319.81 L1763.04,167.37 L1744.14,146.89 Z" fill="#af0926" stroke="#1a1a1a" stroke-width="1.9" stroke-linejoin="round"/>
<path d="M1763.04,319.81 L1803.63,310.34 L1803.63,157.89 L1763.04,167.37 Z" fill="#af0926" stroke="#1a1a1a" stroke-width="1.9" stroke-linejoin="round"/>
<path d="M1744.14,146.89 L1784.73,137.41 L1803.63,157.89 L1763.04,167.37 Z" fill="#af0926" stroke="#1a1a1a" stroke-width="1.9" stroke-linejoin="round"/>
<path d="M1693.41,311.18 L1734,301.7 L1752.89,322.18 L1712.3,331.66 Z" fill="#fffebe" stroke="#1a1a1a" stroke-width="1.5" stroke-linejoin="round"/>
<path d="M1642.67,323.02 L1683.26,313.54 L1702.15,334.02 L1661.56,343.5 Z" fill="#fffebe" stroke="#1a1a1a" stroke-width="1.5" stroke-linejoin="round"/>
<path d="M1591.93,334.86 L1632.52,325.39 L1651.42,345.87 L1610.83,355.34 Z" fill="#fffebe" stroke="#1a1a1a" stroke-width="1.5" stroke-linejoin="round"/>
<path d="M1506.9,93.5 L1506.9,241.2 L1625,369.2 L1817.8,324.2" stroke="#262626" stroke-width="3.7" fill="none" stroke-linejoin="miter"/>
<path d="M1530.52,266.8 L1525.16,268.05" stroke="#262626" stroke-width="2.8"/>
<text x="1520.3" y="285.7" text-anchor="end" font-family="'DejaVu Sans','Liberation Sans',sans-serif" font-size="33" fill="#2a2a2a">HH</text>
<path d="M1645.29,364.46 L1649.02,368.51" stroke="#262626" stroke-width="2.8"/>
<text x="1642" y="396.2" font-family="'DejaVu Sans','Liberation Sans',sans-serif" font-size="33" fill="#2a2a2a">HH</text>
<path d="M1554.14,292.4 L1548.78,293.65" stroke="#262626" stroke-width="2.8"/>
<text x="1542.4" y="314.1" text-anchor="end" font-family="'DejaVu Sans','Liberation Sans',sans-serif" font-size="33" fill="#2a2a2a">HV</text>
<path d="M1696.03,352.62 L1699.76,356.66" stroke="#262626" stroke-width="2.8"/>
<text x="1696" y="383.2" font-family="'DejaVu Sans','Liberation Sans',sans-serif" font-size="33" fill="#2a2a2a">HV</text>
<path d="M1577.76,318 L1572.4,319.25" stroke="#262626" stroke-width="2.8"/>
<text x="1570.3" y="339.7" text-anchor="end" font-family="'DejaVu Sans','Liberation Sans',sans-serif" font-size="33" fill="#2a2a2a">VH</text>
<path d="M1746.77,340.78 L1750.5,344.82" stroke="#262626" stroke-width="2.8"/>
<text x="1749" y="372.2" font-family="'DejaVu Sans','Liberation Sans',sans-serif" font-size="33" fill="#2a2a2a">VH</text>
<path d="M1601.38,343.6 L1596.02,344.85" stroke="#262626" stroke-width="2.8"/>
<text x="1591.4" y="369.1" text-anchor="end" font-family="'DejaVu Sans','Liberation Sans',sans-serif" font-size="33" fill="#2a2a2a">VV</text>
<path d="M1797.51,328.94 L1801.23,332.98" stroke="#262626" stroke-width="2.8"/>
<text x="1799" y="360.1" font-family="'DejaVu Sans','Liberation Sans',sans-serif" font-size="33" fill="#2a2a2a">VV</text>
<path d="M1502.4,240.2 H1506.9" stroke="#262626" stroke-width="2.8"/>
<text x="1495.8" y="247.7" text-anchor="end" font-family="'DejaVu Sans','Liberation Sans',sans-serif" font-size="33" letter-spacing="1.2" fill="#2a2a2a">0</text>
<path d="M1502.4,176.3 H1506.9" stroke="#262626" stroke-width="2.8"/>
<text x="1499.5" y="179.6" text-anchor="end" font-family="'DejaVu Sans','Liberation Sans',sans-serif" font-size="33" letter-spacing="1.2" fill="#2a2a2a">0.4</text>
<path d="M1502.4,112.9 H1506.9" stroke="#262626" stroke-width="2.8"/>
<text x="1499.5" y="115.7" text-anchor="end" font-family="'DejaVu Sans','Liberation Sans',sans-serif" font-size="33" letter-spacing="1.2" fill="#2a2a2a">0.8</text>
<path d="M1141.66,741.56 V588.86" stroke="#000" stroke-opacity="0.125" stroke-width="3.2" fill="none"/>
<path d="M1141.66,741.56 L1260.96,872.56" stroke="#000" stroke-opacity="0.125" stroke-width="3.2" fill="none"/>
<path d="M1193.55,729.95 V577.25" stroke="#000" stroke-opacity="0.125" stroke-width="3.2" fill="none"/>
<path d="M1193.55,729.95 L1312.85,860.95" stroke="#000" stroke-opacity="0.125" stroke-width="3.2" fill="none"/>
<path d="M1245.45,718.35 V565.65" stroke="#000" stroke-opacity="0.125" stroke-width="3.2" fill="none"/>
<path d="M1245.45,718.35 L1364.75,849.35" stroke="#000" stroke-opacity="0.125" stroke-width="3.2" fill="none"/>
<path d="M1297.34,706.74 V554.04" stroke="#000" stroke-opacity="0.125" stroke-width="3.2" fill="none"/>
<path d="M1297.34,706.74 L1416.64,837.74" stroke="#000" stroke-opacity="0.125" stroke-width="3.2" fill="none"/>
<path d="M1341.96,728.3 V575.6" stroke="#000" stroke-opacity="0.125" stroke-width="3.2" fill="none"/>
<path d="M1341.96,728.3 L1144.76,772.4" stroke="#000" stroke-opacity="0.125" stroke-width="3.2" fill="none"/>
<path d="M1365.82,754.5 V601.8" stroke="#000" stroke-opacity="0.125" stroke-width="3.2" fill="none"/>
<path d="M1365.82,754.5 L1168.62,798.6" stroke="#000" stroke-opacity="0.125" stroke-width="3.2" fill="none"/>
<path d="M1389.68,780.7 V628" stroke="#000" stroke-opacity="0.125" stroke-width="3.2" fill="none"/>
<path d="M1389.68,780.7 L1192.48,824.8" stroke="#000" stroke-opacity="0.125" stroke-width="3.2" fill="none"/>
<path d="M1413.54,806.9 V654.2" stroke="#000" stroke-opacity="0.125" stroke-width="3.2" fill="none"/>
<path d="M1413.54,806.9 L1216.34,851" stroke="#000" stroke-opacity="0.125" stroke-width="3.2" fill="none"/>
<path d="M1120.9,687.8 L1318.1,643.7 L1437.4,774.7" stroke="#000" stroke-opacity="0.125" stroke-width="3.2" fill="none"/>
<path d="M1120.9,627.9 L1318.1,583.8 L1437.4,714.8" stroke="#000" stroke-opacity="0.125" stroke-width="3.2" fill="none"/>
<path d="M1290.9,728.6 L1309.99,749.56 L1309.99,597.42 L1290.9,576.46 Z" fill="#a50026" stroke="#1a1a1a" stroke-width="1.9" stroke-linejoin="round"/>
<path d="M1309.99,749.56 L1351.5,740.28 L1351.5,588.13 L1309.99,597.42 Z" fill="#a50026" stroke="#1a1a1a" stroke-width="1.9" stroke-linejoin="round"/>
<path d="M1290.9,576.46 L1332.42,567.17 L1351.5,588.13 L1309.99,597.42 Z" fill="#a50026" stroke="#1a1a1a" stroke-width="1.9" stroke-linejoin="round"/>
<path d="M1239.01,740.21 L1280.52,730.93 L1299.61,751.89 L1258.09,761.17 Z" fill="#fffebe" stroke="#1a1a1a" stroke-width="1.5" stroke-linejoin="round"/>
<path d="M1187.11,751.81 L1228.63,742.53 L1247.71,763.49 L1206.2,772.77 Z" fill="#fffebe" stroke="#1a1a1a" stroke-width="1.5" stroke-linejoin="round"/>
<path d="M1135.22,763.42 L1154.3,784.38 L1154.3,632.23 L1135.22,611.27 Z" fill="#a50026" stroke="#1a1a1a" stroke-width="1.9" stroke-linejoin="round"/>
<path d="M1154.3,784.38 L1195.82,775.1 L1195.82,622.95 L1154.3,632.23 Z" fill="#a50026" stroke="#1a1a1a" stroke-width="1.9" stroke-linejoin="round"/>
<path d="M1135.22,611.27 L1176.73,601.99 L1195.82,622.95 L1154.3,632.23 Z" fill="#a50026" stroke="#1a1a1a" stroke-width="1.9" stroke-linejoin="round"/>
<path d="M1314.76,754.8 L1356.28,745.52 L1375.36,766.48 L1333.85,775.76 Z" fill="#fffebe" stroke="#1a1a1a" stroke-width="1.5" stroke-linejoin="round"/>
<path d="M1262.87,766.41 L1304.38,757.13 L1323.47,778.09 L1281.95,787.37 Z" fill="#fffebe" stroke="#1a1a1a" stroke-width="1.5" stroke-linejoin="round"/>
<path d="M1210.97,778.01 L1252.49,768.73 L1271.57,789.69 L1230.06,798.97 Z" fill="#fffebe" stroke="#1a1a1a" stroke-width="1.5" stroke-linejoin="round"/>
<path d="M1159.08,789.62 L1200.59,780.34 L1219.68,801.3 L1178.16,810.58 Z" fill="#fffebe" stroke="#1a1a1a" stroke-width="1.5" stroke-linejoin="round"/>
<path d="M1338.62,781 L1380.14,771.72 L1399.22,792.68 L1357.71,801.96 Z" fill="#fffebe" stroke="#1a1a1a" stroke-width="1.5" stroke-linejoin="round"/>
<path d="M1286.73,792.61 L1328.24,783.33 L1347.33,804.29 L1305.81,813.57 Z" fill="#fffebe" stroke="#1a1a1a" stroke-width="1.5" stroke-linejoin="round"/>
<path d="M1234.83,804.21 L1276.35,794.93 L1295.43,815.89 L1253.92,825.17 Z" fill="#fffebe" stroke="#1a1a1a" stroke-width="1.5" stroke-linejoin="round"/>
<path d="M1182.94,815.82 L1224.45,806.54 L1243.54,827.5 L1202.02,836.78 Z" fill="#fffebe" stroke="#1a1a1a" stroke-width="1.5" stroke-linejoin="round"/>
<path d="M1362.48,807.2 L1381.57,828.16 L1381.57,676.02 L1362.48,655.06 Z" fill="#a50026" stroke="#1a1a1a" stroke-width="1.9" stroke-linejoin="round"/>
<path d="M1381.57,828.16 L1423.08,818.88 L1423.08,666.73 L1381.57,676.02 Z" fill="#a50026" stroke="#1a1a1a" stroke-width="1.9" stroke-linejoin="round"/>
<path d="M1362.48,655.06 L1404,645.77 L1423.08,666.73 L1381.57,676.02 Z" fill="#a50026" stroke="#1a1a1a" stroke-width="1.9" stroke-linejoin="round"/>
<path d="M1310.59,818.81 L1352.1,809.53 L1371.19,830.49 L1329.67,839.77 Z" fill="#fffebe" stroke="#1a1a1a" stroke-width="1.5" stroke-linejoin="round"/>
<path d="M1258.69,830.41 L1300.21,821.13 L1319.29,842.09 L1277.78,851.37 Z" fill="#fffebe" stroke="#1a1a1a" stroke-width="1.5" stroke-linejoin="round"/>
<path d="M1206.8,842.02 L1225.88,862.98 L1225.88,710.83 L1206.8,689.87 Z" fill="#a50026" stroke="#1a1a1a" stroke-width="1.9" stroke-linejoin="round"/>
<path d="M1225.88,862.98 L1267.4,853.7 L1267.4,701.55 L1225.88,710.83 Z" fill="#a50026" stroke="#1a1a1a" stroke-width="1.9" stroke-linejoin="round"/>
<path d="M1206.8,689.87 L1248.31,680.59 L1267.4,701.55 L1225.88,710.83 Z" fill="#a50026" stroke="#1a1a1a" stroke-width="1.9" stroke-linejoin="round"/>
<path d="M1120.9,593.5 L1120.9,746.2 L1240.2,877.2 L1437.4,833.1" stroke="#262626" stroke-width="3.1" fill="none" stroke-linejoin="miter"/>
<path d="M1144.76,772.4 L1139.39,773.6" stroke="#262626" stroke-width="2.8"/>
<text x="1126.2" y="790.1" text-anchor="end" font-family="'DejaVu Sans','Liberation Sans',sans-serif" font-size="33" fill="#000">HH</text>
<path d="M1260.96,872.56 L1264.66,876.62" stroke="#262626" stroke-width="2.8"/>
<text x="1245" y="904.2" font-family="'DejaVu Sans','Liberation Sans',sans-serif" font-size="33" fill="#000">HH</text>
<path d="M1168.62,798.6 L1163.25,799.8" stroke="#262626" stroke-width="2.8"/>
<text x="1155.4" y="818.1" text-anchor="end" font-family="'DejaVu Sans','Liberation Sans',sans-serif" font-size="33" fill="#000">HV</text>
<path d="M1312.85,860.95 L1316.56,865.02" stroke="#262626" stroke-width="2.8"/>
<text x="1305" y="890.2" font-family="'DejaVu Sans','Liberation Sans',sans-serif" font-size="33" fill="#000">HV</text>
<path d="M1192.48,824.8 L1187.11,826" stroke="#262626" stroke-width="2.8"/>
<text x="1183.3" y="843.1" text-anchor="end" font-family="'DejaVu Sans','Liberation Sans',sans-serif" font-size="33" fill="#000">VH</text>
<path d="M1364.75,849.35 L1368.45,853.41" stroke="#262626" stroke-width="2.8"/>
<text x="1365" y="878.2" font-family="'DejaVu Sans','Liberation Sans',sans-serif" font-size="33" fill="#000">VH</text>
<path d="M1216.34,851 L1210.97,852.2" stroke="#262626" stroke-width="2.8"/>
<text x="1206.4" y="874.2" text-anchor="end" font-family="'DejaVu Sans','Liberation Sans',sans-serif" font-size="33" fill="#000">VV</text>
<path d="M1416.64,837.74 L1420.35,841.81" stroke="#262626" stroke-width="2.8"/>
<text x="1416" y="866.1" font-family="'DejaVu Sans','Liberation Sans',sans-serif" font-size="33" fill="#000">VV</text>
<path d="M1116.4,745.9 H1120.9" stroke="#262626" stroke-width="2.8"/>
<text x="1116.5" y="753.4" text-anchor="end" font-family="'DejaVu Sans','Liberation Sans',sans-serif" font-size="33" letter-spacing="1.2" fill="#000">0</text>
<path d="M1116.4,684.4 H1120.9" stroke="#262626" stroke-width="2.8"/>
<text x="1118" y="689.4" text-anchor="end" font-family="'DejaVu Sans','Liberation Sans',sans-serif" font-size="33" letter-spacing="1.2" fill="#000">0.2</text>
<path d="M1116.4,624.5 H1120.9" stroke="#262626" stroke-width="2.8"/>
<text x="1118" y="629.6" text-anchor="end" font-family="'DejaVu Sans','Liberation Sans',sans-serif" font-size="33" letter-spacing="1.2" fill="#000">0.4</text>
<path d="M1529.95,738.35 V583.95" stroke="#000" stroke-opacity="0.125" stroke-width="3.2" fill="none"/>
<path d="M1529.95,738.35 L1652.05,870.95" stroke="#000" stroke-opacity="0.125" stroke-width="3.2" fill="none"/>
<path d="M1582.08,726.22 V571.82" stroke="#000" stroke-opacity="0.125" stroke-width="3.2" fill="none"/>
<path d="M1582.08,726.22 L1704.18,858.82" stroke="#000" stroke-opacity="0.125" stroke-width="3.2" fill="none"/>
<path d="M1634.22,714.08 V559.68" stroke="#000" stroke-opacity="0.125" stroke-width="3.2" fill="none"/>
<path d="M1634.22,714.08 L1756.32,846.68" stroke="#000" stroke-opacity="0.125" stroke-width="3.2" fill="none"/>
<path d="M1686.35,701.95 V547.55" stroke="#000" stroke-opacity="0.125" stroke-width="3.2" fill="none"/>
<path d="M1686.35,701.95 L1808.45,834.55" stroke="#000" stroke-opacity="0.125" stroke-width="3.2" fill="none"/>
<path d="M1731.62,723.62 V569.22" stroke="#000" stroke-opacity="0.125" stroke-width="3.2" fill="none"/>
<path d="M1731.62,723.62 L1533.52,769.72" stroke="#000" stroke-opacity="0.125" stroke-width="3.2" fill="none"/>
<path d="M1756.04,750.14 V595.74" stroke="#000" stroke-opacity="0.125" stroke-width="3.2" fill="none"/>
<path d="M1756.04,750.14 L1557.94,796.24" stroke="#000" stroke-opacity="0.125" stroke-width="3.2" fill="none"/>
<path d="M1780.46,776.66 V622.26" stroke="#000" stroke-opacity="0.125" stroke-width="3.2" fill="none"/>
<path d="M1780.46,776.66 L1582.36,822.76" stroke="#000" stroke-opacity="0.125" stroke-width="3.2" fill="none"/>
<path d="M1804.88,803.18 V648.78" stroke="#000" stroke-opacity="0.125" stroke-width="3.2" fill="none"/>
<path d="M1804.88,803.18 L1606.78,849.28" stroke="#000" stroke-opacity="0.125" stroke-width="3.2" fill="none"/>
<path d="M1509.1,680.7 L1707.2,634.6 L1829.3,767.2" stroke="#000" stroke-opacity="0.125" stroke-width="3.2" fill="none"/>
<path d="M1509.1,616.7 L1707.2,570.6 L1829.3,703.2" stroke="#000" stroke-opacity="0.125" stroke-width="3.2" fill="none"/>
<path d="M1680.15,724.22 L1699.68,745.43 L1699.68,691.03 L1680.15,669.82 Z" fill="#fdbd6f" stroke="#1a1a1a" stroke-width="1.9" stroke-linejoin="round"/>
<path d="M1699.68,745.43 L1741.39,735.73 L1741.39,681.33 L1699.68,691.03 Z" fill="#fdbd6f" stroke="#1a1a1a" stroke-width="1.9" stroke-linejoin="round"/>
<path d="M1680.15,669.82 L1721.85,660.11 L1741.39,681.33 L1699.68,691.03 Z" fill="#fdbd6f" stroke="#1a1a1a" stroke-width="1.9" stroke-linejoin="round"/>
<path d="M1628.02,736.35 L1669.72,726.64 L1689.26,747.86 L1647.55,757.56 Z" fill="#fffebe" stroke="#1a1a1a" stroke-width="1.5" stroke-linejoin="round"/>
<path d="M1575.88,748.48 L1617.59,738.78 L1637.12,759.99 L1595.42,769.7 Z" fill="#fffebe" stroke="#1a1a1a" stroke-width="1.5" stroke-linejoin="round"/>
<path d="M1523.75,760.61 L1543.29,781.83 L1543.29,629.83 L1523.75,608.61 Z" fill="#a50026" stroke="#1a1a1a" stroke-width="1.9" stroke-linejoin="round"/>
<path d="M1543.29,781.83 L1584.99,772.12 L1584.99,620.12 L1543.29,629.83 Z" fill="#a50026" stroke="#1a1a1a" stroke-width="1.9" stroke-linejoin="round"/>
<path d="M1523.75,608.61 L1565.46,598.91 L1584.99,620.12 L1543.29,629.83 Z" fill="#a50026" stroke="#1a1a1a" stroke-width="1.9" stroke-linejoin="round"/>
<path d="M1704.57,750.74 L1746.27,741.03 L1765.81,762.25 L1724.1,771.95 Z" fill="#fffebe" stroke="#1a1a1a" stroke-width="1.5" stroke-linejoin="round"/>
<path d="M1652.44,762.87 L1671.97,784.08 L1671.97,774.48 L1652.44,753.27 Z" fill="#fff6b1" stroke="#1a1a1a" stroke-width="1.9" stroke-linejoin="round"/>
<path d="M1671.97,784.08 L1713.68,774.38 L1713.68,764.78 L1671.97,774.48 Z" fill="#fff6b1" stroke="#1a1a1a" stroke-width="1.9" stroke-linejoin="round"/>
<path d="M1652.44,753.27 L1694.14,743.56 L1713.68,764.78 L1671.97,774.48 Z" fill="#fff6b1" stroke="#1a1a1a" stroke-width="1.9" stroke-linejoin="round"/>
<path d="M1600.3,775 L1619.84,796.22 L1619.84,786.62 L1600.3,765.4 Z" fill="#fff6b1" stroke="#1a1a1a" stroke-width="1.9" stroke-linejoin="round"/>
<path d="M1619.84,796.22 L1661.54,786.51 L1661.54,776.91 L1619.84,786.62 Z" fill="#fff6b1" stroke="#1a1a1a" stroke-width="1.9" stroke-linejoin="round"/>
<path d="M1600.3,765.4 L1642.01,755.7 L1661.54,776.91 L1619.84,786.62 Z" fill="#fff6b1" stroke="#1a1a1a" stroke-width="1.9" stroke-linejoin="round"/>
<path d="M1548.17,787.13 L1589.88,777.43 L1609.41,798.64 L1567.71,808.35 Z" fill="#fffebe" stroke="#1a1a1a" stroke-width="1.5" stroke-linejoin="round"/>
<path d="M1728.99,777.26 L1770.69,767.55 L1790.23,788.77 L1748.52,798.47 Z" fill="#fffebe" stroke="#1a1a1a" stroke-width="1.5" stroke-linejoin="round"/>
<path d="M1676.86,789.39 L1696.39,810.6 L1696.39,801 L1676.86,779.79 Z" fill="#fff6b1" stroke="#1a1a1a" stroke-width="1.9" stroke-linejoin="round"/>
<path d="M1696.39,810.6 L1738.1,800.9 L1738.1,791.3 L1696.39,801 Z" fill="#fff6b1" stroke="#1a1a1a" stroke-width="1.9" stroke-linejoin="round"/>
<path d="M1676.86,779.79 L1718.56,770.08 L1738.1,791.3 L1696.39,801 Z" fill="#fff6b1" stroke="#1a1a1a" stroke-width="1.9" stroke-linejoin="round"/>
<path d="M1624.72,801.52 L1644.26,822.74 L1644.26,813.14 L1624.72,791.92 Z" fill="#fff6b1" stroke="#1a1a1a" stroke-width="1.9" stroke-linejoin="round"/>
<path d="M1644.26,822.74 L1685.96,813.03 L1685.96,803.43 L1644.26,813.14 Z" fill="#fff6b1" stroke="#1a1a1a" stroke-width="1.9" stroke-linejoin="round"/>
<path d="M1624.72,791.92 L1666.43,782.22 L1685.96,803.43 L1644.26,813.14 Z" fill="#fff6b1" stroke="#1a1a1a" stroke-width="1.9" stroke-linejoin="round"/>
<path d="M1572.59,813.65 L1614.3,803.95 L1633.83,825.16 L1592.13,834.87 Z" fill="#fffebe" stroke="#1a1a1a" stroke-width="1.5" stroke-linejoin="round"/>
<path d="M1753.41,803.78 L1772.94,824.99 L1772.94,671.39 L1753.41,650.18 Z" fill="#a50026" stroke="#1a1a1a" stroke-width="1.9" stroke-linejoin="round"/>
<path d="M1772.94,824.99 L1814.65,815.29 L1814.65,661.69 L1772.94,671.39 Z" fill="#a50026" stroke="#1a1a1a" stroke-width="1.9" stroke-linejoin="round"/>
<path d="M1753.41,650.18 L1795.11,640.47 L1814.65,661.69 L1772.94,671.39 Z" fill="#a50026" stroke="#1a1a1a" stroke-width="1.9" stroke-linejoin="round"/>
<path d="M1701.28,815.91 L1742.98,806.2 L1762.52,827.42 L1720.81,837.12 Z" fill="#fffebe" stroke="#1a1a1a" stroke-width="1.5" stroke-linejoin="round"/>
<path d="M1649.14,828.04 L1690.85,818.34 L1710.38,839.55 L1668.68,849.26 Z" fill="#fffebe" stroke="#1a1a1a" stroke-width="1.5" stroke-linejoin="round"/>
<path d="M1597.01,840.17 L1616.55,861.39 L1616.55,806.99 L1597.01,785.77 Z" fill="#fdbd6f" stroke="#1a1a1a" stroke-width="1.9" stroke-linejoin="round"/>
<path d="M1616.55,861.39 L1658.25,851.68 L1658.25,797.28 L1616.55,806.99 Z" fill="#fdbd6f" stroke="#1a1a1a" stroke-width="1.9" stroke-linejoin="round"/>
<path d="M1597.01,785.77 L1638.72,776.07 L1658.25,797.28 L1616.55,806.99 Z" fill="#fdbd6f" stroke="#1a1a1a" stroke-width="1.9" stroke-linejoin="round"/>
<path d="M1509.1,588.8 L1509.1,743.2 L1631.2,875.8 L1829.3,829.7" stroke="#262626" stroke-width="3.1" fill="none" stroke-linejoin="miter"/>
<path d="M1533.52,769.72 L1528.16,770.97" stroke="#262626" stroke-width="2.8"/>
<text x="1526.2" y="784.1" text-anchor="end" font-family="'DejaVu Sans','Liberation Sans',sans-serif" font-size="33" fill="#000">HH</text>
<path d="M1652.05,870.95 L1655.78,874.99" stroke="#262626" stroke-width="2.8"/>
<text x="1645" y="908.2" font-family="'DejaVu Sans','Liberation Sans',sans-serif" font-size="33" fill="#000">HH</text>
<path d="M1557.94,796.24 L1552.58,797.49" stroke="#262626" stroke-width="2.8"/>
<text x="1547.4" y="814.1" text-anchor="end" font-family="'DejaVu Sans','Liberation Sans',sans-serif" font-size="33" fill="#000">HV</text>
<path d="M1704.18,858.82 L1707.91,862.86" stroke="#262626" stroke-width="2.8"/>
<text x="1704" y="889.2" font-family="'DejaVu Sans','Liberation Sans',sans-serif" font-size="33" fill="#000">HV</text>
<path d="M1582.36,822.76 L1577,824.01" stroke="#262626" stroke-width="2.8"/>
<text x="1576.3" y="842.5" text-anchor="end" font-family="'DejaVu Sans','Liberation Sans',sans-serif" font-size="33" fill="#000">VH</text>
<path d="M1756.32,846.68 L1760.04,850.73" stroke="#262626" stroke-width="2.8"/>
<text x="1763" y="878.2" font-family="'DejaVu Sans','Liberation Sans',sans-serif" font-size="33" fill="#000">VH</text>
<path d="M1606.78,849.28 L1601.42,850.53" stroke="#262626" stroke-width="2.8"/>
<text x="1598.4" y="870.2" text-anchor="end" font-family="'DejaVu Sans','Liberation Sans',sans-serif" font-size="33" fill="#000">VV</text>
<path d="M1808.45,834.55 L1812.17,838.6" stroke="#262626" stroke-width="2.8"/>
<text x="1813" y="865.7" font-family="'DejaVu Sans','Liberation Sans',sans-serif" font-size="33" fill="#000">VV</text>
<path d="M1504.6,742.1 H1509.1" stroke="#262626" stroke-width="2.8"/>
<text x="1503" y="750.6" text-anchor="end" font-family="'DejaVu Sans','Liberation Sans',sans-serif" font-size="33" letter-spacing="1.2" fill="#000">0</text>
<path d="M1504.6,676.8 H1509.1" stroke="#262626" stroke-width="2.8"/>
<text x="1504.8" y="688.5" text-anchor="end" font-family="'DejaVu Sans','Liberation Sans',sans-serif" font-size="33" letter-spacing="1.2" fill="#000">0.2</text>
<path d="M1504.6,611.8 H1509.1" stroke="#262626" stroke-width="2.8"/>
<text x="1504.5" y="625.9" text-anchor="end" font-family="'DejaVu Sans','Liberation Sans',sans-serif" font-size="33" letter-spacing="1.2" fill="#000">0.4</text>
<rect x="1891.2" y="39.3" width="15.599999999999909" height="9.05" fill="#ab0626"/>
<rect x="1891.2" y="47.95" width="15.599999999999909" height="9.05" fill="#b71126"/>
<rect x="1891.2" y="56.61" width="15.599999999999909" height="9.05" fill="#c21c27"/>
<rect x="1891.2" y="65.26" width="15.599999999999909" height="9.05" fill="#d02927"/>
<rect x="1891.2" y="73.92" width="15.599999999999909" height="9.05" fill="#da362a"/>
<rect x="1891.2" y="82.57" width="15.599999999999909" height="9.05" fill="#e24731"/>
<rect x="1891.2" y="91.23" width="15.599999999999909" height="9.05" fill="#e95538"/>
<rect x="1891.2" y="99.88" width="15.599999999999909" height="9.05" fill="#ef633f"/>
<rect x="1891.2" y="108.54" width="15.599999999999909" height="9.05" fill="#f57547"/>
<rect x="1891.2" y="117.19" width="15.599999999999909" height="9.05" fill="#f7844e"/>
<rect x="1891.2" y="125.85" width="15.599999999999909" height="9.05" fill="#fa9656"/>
<rect x="1891.2" y="134.5" width="15.599999999999909" height="9.05" fill="#fca55d"/>
<rect x="1891.2" y="143.16" width="15.599999999999909" height="9.05" fill="#fdb366"/>
<rect x="1891.2" y="151.81" width="15.599999999999909" height="9.05" fill="#fdc173"/>
<rect x="1891.2" y="160.47" width="15.599999999999909" height="9.05" fill="#fecc7e"/>
<rect x="1891.2" y="169.12" width="15.599999999999909" height="9.05" fill="#feda8a"/>
<rect x="1891.2" y="177.78" width="15.599999999999909" height="9.05" fill="#fee496"/>
<rect x="1891.2" y="186.44" width="15.599999999999909" height="9.05" fill="#feeba1"/>
<rect x="1891.2" y="195.09" width="15.599999999999909" height="9.05" fill="#fff3ad"/>
<rect x="1891.2" y="203.75" width="15.599999999999909" height="9.05" fill="#fffbb9"/>
<rect x="1891.2" y="212.4" width="15.599999999999909" height="9.05" fill="#fbfdc7"/>
<rect x="1891.2" y="221.06" width="15.599999999999909" height="9.05" fill="#f3fbd4"/>
<rect x="1891.2" y="229.71" width="15.599999999999909" height="9.05" fill="#ecf8e2"/>
<rect x="1891.2" y="238.37" width="15.599999999999909" height="9.05" fill="#e4f4f1"/>
<rect x="1891.2" y="247.02" width="15.599999999999909" height="9.05" fill="#daf0f6"/>
<rect x="1891.2" y="255.67" width="15.599999999999909" height="9.05" fill="#cbe9f2"/>
<rect x="1891.2" y="264.33" width="15.599999999999909" height="9.05" fill="#bfe3ef"/>
<rect x="1891.2" y="272.98" width="15.599999999999909" height="9.05" fill="#b2ddeb"/>
<rect x="1891.2" y="281.64" width="15.599999999999909" height="9.05" fill="#a3d3e6"/>
<rect x="1891.2" y="290.29" width="15.599999999999909" height="9.05" fill="#97c9e0"/>
<rect x="1891.2" y="298.95" width="15.599999999999909" height="9.05" fill="#87bdd9"/>
<rect x="1891.2" y="307.61" width="15.599999999999909" height="9.05" fill="#7ab2d4"/>
<rect x="1891.2" y="316.26" width="15.599999999999909" height="9.05" fill="#6ea6ce"/>
<rect x="1891.2" y="324.91" width="15.599999999999909" height="9.05" fill="#6297c6"/>
<rect x="1891.2" y="333.57" width="15.599999999999909" height="9.05" fill="#578abf"/>
<rect x="1891.2" y="342.22" width="15.599999999999909" height="9.05" fill="#4a7ab7"/>
<rect x="1891.2" y="350.88" width="15.599999999999909" height="9.05" fill="#426cb0"/>
<rect x="1891.2" y="359.53" width="15.599999999999909" height="9.05" fill="#3e5ea8"/>
<rect x="1891.2" y="368.19" width="15.599999999999909" height="9.05" fill="#384ca0"/>
<rect x="1891.2" y="376.84" width="15.599999999999909" height="9.05" fill="#333d99"/>
<rect x="1891.2" y="39.3" width="15.599999999999909" height="346.2" fill="none" stroke="#333" stroke-width="0.9"/>
<path d="M1903.3,126.2 H1906.8" stroke="#444" stroke-width="0.9"/>
<path d="M1903.3,212.5 H1906.8" stroke="#444" stroke-width="0.9"/>
<path d="M1903.3,299.4 H1906.8" stroke="#444" stroke-width="0.9"/>
<text x="1912" y="48.7" font-family="'DejaVu Sans','Liberation Sans',sans-serif" font-size="33" letter-spacing="1.2" fill="#262626">1</text>
<text x="1912" y="138.8" font-family="'DejaVu Sans','Liberation Sans',sans-serif" font-size="33" letter-spacing="1.2" fill="#262626">0.5</text>
<text x="1912" y="224.8" font-family="'DejaVu Sans','Liberation Sans',sans-serif" font-size="33" letter-spacing="1.2" fill="#262626">0</text>
<text x="1912" y="310.8" font-family="'DejaVu Sans','Liberation Sans',sans-serif" font-size="33" letter-spacing="1.2" fill="#262626">-0.5</text>
<text x="1912" y="393.7" font-family="'DejaVu Sans','Liberation Sans',sans-serif" font-size="33" letter-spacing="1.2" fill="#262626">-1</text>
<rect x="1889.3" y="527.2" width="14.400000000000091" height="9.51" fill="#ab0626"/>
<rect x="1889.3" y="536.31" width="14.400000000000091" height="9.51" fill="#b71126"/>
<rect x="1889.3" y="545.42" width="14.400000000000091" height="9.51" fill="#c21c27"/>
<rect x="1889.3" y="554.52" width="14.400000000000091" height="9.51" fill="#d02927"/>
<rect x="1889.3" y="563.63" width="14.400000000000091" height="9.51" fill="#da362a"/>
<rect x="1889.3" y="572.74" width="14.400000000000091" height="9.51" fill="#e24731"/>
<rect x="1889.3" y="581.85" width="14.400000000000091" height="9.51" fill="#e95538"/>
<rect x="1889.3" y="590.95" width="14.400000000000091" height="9.51" fill="#ef633f"/>
<rect x="1889.3" y="600.06" width="14.400000000000091" height="9.51" fill="#f57547"/>
<rect x="1889.3" y="609.17" width="14.400000000000091" height="9.51" fill="#f7844e"/>
<rect x="1889.3" y="618.28" width="14.400000000000091" height="9.51" fill="#fa9656"/>
<rect x="1889.3" y="627.38" width="14.400000000000091" height="9.51" fill="#fca55d"/>
<rect x="1889.3" y="636.49" width="14.400000000000091" height="9.51" fill="#fdb366"/>
<rect x="1889.3" y="645.6" width="14.400000000000091" height="9.51" fill="#fdc173"/>
<rect x="1889.3" y="654.71" width="14.400000000000091" height="9.51" fill="#fecc7e"/>
<rect x="1889.3" y="663.81" width="14.400000000000091" height="9.51" fill="#feda8a"/>
<rect x="1889.3" y="672.92" width="14.400000000000091" height="9.51" fill="#fee496"/>
<rect x="1889.3" y="682.03" width="14.400000000000091" height="9.51" fill="#feeba1"/>
<rect x="1889.3" y="691.13" width="14.400000000000091" height="9.51" fill="#fff3ad"/>
<rect x="1889.3" y="700.24" width="14.400000000000091" height="9.51" fill="#fffbb9"/>
<rect x="1889.3" y="709.35" width="14.400000000000091" height="9.51" fill="#fbfdc7"/>
<rect x="1889.3" y="718.46" width="14.400000000000091" height="9.51" fill="#f3fbd4"/>
<rect x="1889.3" y="727.57" width="14.400000000000091" height="9.51" fill="#ecf8e2"/>
<rect x="1889.3" y="736.67" width="14.400000000000091" height="9.51" fill="#e4f4f1"/>
<rect x="1889.3" y="745.78" width="14.400000000000091" height="9.51" fill="#daf0f6"/>
<rect x="1889.3" y="754.89" width="14.400000000000091" height="9.51" fill="#cbe9f2"/>
<rect x="1889.3" y="764" width="14.400000000000091" height="9.51" fill="#bfe3ef"/>
<rect x="1889.3" y="773.1" width="14.400000000000091" height="9.51" fill="#b2ddeb"/>
<rect x="1889.3" y="782.21" width="14.400000000000091" height="9.51" fill="#a3d3e6"/>
<rect x="1889.3" y="791.32" width="14.400000000000091" height="9.51" fill="#97c9e0"/>
<rect x="1889.3" y="800.42" width="14.400000000000091" height="9.51" fill="#87bdd9"/>
<rect x="1889.3" y="809.53" width="14.400000000000091" height="9.51" fill="#7ab2d4"/>
<rect x="1889.3" y="818.64" width="14.400000000000091" height="9.51" fill="#6ea6ce"/>
<rect x="1889.3" y="827.75" width="14.400000000000091" height="9.51" fill="#6297c6"/>
<rect x="1889.3" y="836.86" width="14.400000000000091" height="9.51" fill="#578abf"/>
<rect x="1889.3" y="845.96" width="14.400000000000091" height="9.51" fill="#4a7ab7"/>
<rect x="1889.3" y="855.07" width="14.400000000000091" height="9.51" fill="#426cb0"/>
<rect x="1889.3" y="864.18" width="14.400000000000091" height="9.51" fill="#3e5ea8"/>
<rect x="1889.3" y="873.28" width="14.400000000000091" height="9.51" fill="#384ca0"/>
<rect x="1889.3" y="882.39" width="14.400000000000091" height="9.51" fill="#333d99"/>
<rect x="1889.3" y="527.2" width="14.400000000000091" height="364.29999999999995" fill="none" stroke="#333" stroke-width="0.9"/>
<path d="M1900.2,618.8 H1903.7" stroke="#444" stroke-width="0.9"/>
<path d="M1900.2,709.3 H1903.7" stroke="#444" stroke-width="0.9"/>
<path d="M1900.2,800.2 H1903.7" stroke="#444" stroke-width="0.9"/>
<text x="1908.5" y="539.1" font-family="'DejaVu Sans','Liberation Sans',sans-serif" font-size="33" letter-spacing="1.2" fill="#000">0.5</text>
<text x="1908.5" y="628.5" font-family="'DejaVu Sans','Liberation Sans',sans-serif" font-size="33" letter-spacing="1.2" fill="#000">0.25</text>
<text x="1908.5" y="718.9" font-family="'DejaVu Sans','Liberation Sans',sans-serif" font-size="33" letter-spacing="1.2" fill="#000">0</text>
<text x="1908.5" y="809.3" font-family="'DejaVu Sans','Liberation Sans',sans-serif" font-size="33" letter-spacing="1.2" fill="#000">-0.25</text>
<text x="1908.5" y="899.8" font-family="'DejaVu Sans','Liberation Sans',sans-serif" font-size="33" letter-spacing="1.2" fill="#000">-0.5</text>
<path d="M1061.6,429.8 H1115.3 V444.2 H1061.6 Z M1128.7,429.8 H1182.4 V444.2 H1128.7 Z M1194.9,429.8 H1909 V416.7 L1943.8,437 L1909,457.3 V444.2 H1194.9 Z" fill="#00c8fa"/>
<rect x="1269.5" y="424" width="8" height="8" fill="#00c8fa"/>
<rect x="1701" y="424" width="8" height="8" fill="#00c8fa"/>
<text x="1261.5" y="490" text-anchor="middle" font-family="'DejaVu Sans','Liberation Sans',sans-serif" font-size="33" letter-spacing="1" fill="#000">30°</text>
<text x="1694.5" y="490" text-anchor="middle" font-family="'DejaVu Sans','Liberation Sans',sans-serif" font-size="33" letter-spacing="1" fill="#000">75°</text>
<text x="1888.5" y="495.6" font-family="'DejaVu Sans','Liberation Sans',sans-serif" font-size="33" fill="#000">θ</text>
<path d="M1061.6,929.8 H1115.3 V944.2 H1061.6 Z M1128.7,929.8 H1182.4 V944.2 H1128.7 Z M1194.9,929.8 H1909 V916.7 L1943.8,937 L1909,957.3 V944.2 H1194.9 Z" fill="#ff6a00"/>
<rect x="1269.5" y="924" width="8" height="8" fill="#ff6a00"/>
<rect x="1693" y="924" width="8" height="8" fill="#ff6a00"/>
<text x="1278" y="990" text-anchor="middle" font-family="'DejaVu Sans','Liberation Sans',sans-serif" font-size="33" letter-spacing="1" fill="#000">15°</text>
<text x="1699" y="990" text-anchor="middle" font-family="'DejaVu Sans','Liberation Sans',sans-serif" font-size="33" letter-spacing="1" fill="#000">75°</text>
<text x="1895.8" y="997.3" font-family="'DejaVu Sans','Liberation Sans',sans-serif" font-size="33" fill="#000">θ<tspan dy="11.2" dx="2.5">max</tspan></text>
<text x="1285" y="44.4" text-anchor="middle" font-family="'DejaVu Sans','Liberation Sans',sans-serif" font-size="33" letter-spacing="0.4" fill="#000">C=0.65</text>
<text x="1692" y="39.5" text-anchor="middle" font-family="'DejaVu Sans','Liberation Sans',sans-serif" font-size="33" letter-spacing="0.4" fill="#000">C=0</text>
<text x="1260" y="544" text-anchor="middle" font-family="'DejaVu Sans','Liberation Sans',sans-serif" font-size="33" letter-spacing="0.4" fill="#000">C=1</text>
<text x="1684" y="545" text-anchor="middle" font-family="'DejaVu Sans','Liberation Sans',sans-serif" font-size="33" letter-spacing="0.4" fill="#000">C=0.28</text>
<rect x="1736.6" y="515.5" width="1.7" height="4.2" fill="#000"/>
<text x="24.5" y="39.5" font-family="'DejaVu Sans','Liberation Sans',sans-serif" font-size="46" font-weight="bold">a</text>
<text x="1041.5" y="46.4" font-family="'DejaVu Sans','Liberation Sans',sans-serif" font-size="46" font-weight="bold">b</text>
<text x="1034.7" y="517" font-family="'DejaVu Sans','Liberation Sans',sans-serif" font-size="46" font-weight="bold">c</text>
<defs><clipPath id="fcB"><path d="M460.5,574.5 C442.17,571.75 418.83,572 400.5,571.5 C382.17,571 365.5,571.25 350.5,571.5 C335.5,571.75 323.17,571.67 310.5,573 C297.83,574.33 285.07,576.58 274.5,579.5 C263.93,582.42 254.45,586.82 247.1,590.5 C239.75,594.18 234.78,598.22 230.4,601.6 C226.02,604.98 222.75,608.12 220.8,610.8 C218.85,613.48 218.47,614.93 218.7,617.7 C218.93,620.47 220,623.93 222.2,627.4 C224.4,630.87 228.43,635.48 231.9,638.5 C235.37,641.52 237.92,642.48 243,645.5 C248.08,648.52 255.7,653.13 262.4,656.6 C269.1,660.07 275.12,662.85 283.2,666.3 C291.28,669.75 301.67,674.07 310.9,677.3 C320.13,680.53 330.42,683.62 338.6,685.7 C346.78,687.78 348.02,687.58 360,689.8 C371.98,692.02 393.75,695.97 410.5,699 C427.25,702.03 443.83,705.17 460.5,708 C477.17,710.83 493.75,713.95 510.5,716 C527.25,718.05 542.1,720.5 561,720.3 C579.9,720.1 606.48,718.03 623.9,714.8 C641.32,711.57 653.93,705.52 665.5,700.9 C677.07,696.28 687.17,691.72 693.3,687.1 C699.43,682.48 701.85,677.83 702.3,673.2 C702.75,668.57 700.05,663.92 696,659.3 C691.95,654.68 685.38,650.12 678,645.5 C670.62,640.88 663.02,636.47 651.7,631.6 C640.38,626.73 625.22,621.15 610.1,616.3 C594.98,611.45 577.6,607.22 561,602.5 C544.4,597.78 527.25,592.67 510.5,588 C493.75,583.33 478.83,577.25 460.5,574.5 Z"/></clipPath><clipPath id="fcR"><path d="M460.5,574.5 C478.83,571.75 502.17,572 520.5,571.5 C538.83,571 555.5,571.25 570.5,571.5 C585.5,571.75 597.83,571.67 610.5,573 C623.17,574.33 635.93,576.58 646.5,579.5 C657.07,582.42 666.55,586.82 673.9,590.5 C681.25,594.18 686.22,598.22 690.6,601.6 C694.98,604.98 698.25,608.12 700.2,610.8 C702.15,613.48 702.53,614.93 702.3,617.7 C702.07,620.47 701,623.93 698.8,627.4 C696.6,630.87 692.57,635.48 689.1,638.5 C685.63,641.52 683.08,642.48 678,645.5 C672.92,648.52 665.3,653.13 658.6,656.6 C651.9,660.07 645.88,662.85 637.8,666.3 C629.72,669.75 619.33,674.07 610.1,677.3 C600.87,680.53 590.58,683.62 582.4,685.7 C574.22,687.78 572.98,687.58 561,689.8 C549.02,692.02 527.25,695.97 510.5,699 C493.75,702.03 477.17,705.17 460.5,708 C443.83,710.83 427.25,713.95 410.5,716 C393.75,718.05 378.9,720.5 360,720.3 C341.1,720.1 314.52,718.03 297.1,714.8 C279.68,711.57 267.07,705.52 255.5,700.9 C243.93,696.28 233.83,691.72 227.7,687.1 C221.57,682.48 219.15,677.83 218.7,673.2 C218.25,668.57 220.95,663.92 225,659.3 C229.05,654.68 235.62,650.12 243,645.5 C250.38,640.88 257.98,636.47 269.3,631.6 C280.62,626.73 295.78,621.15 310.9,616.3 C326.02,611.45 343.4,607.22 360,602.5 C376.6,597.78 393.75,592.67 410.5,588 C427.25,583.33 442.17,577.25 460.5,574.5 Z"/></clipPath><clipPath id="hL"><rect x="0" y="500" width="460.5" height="400"/></clipPath><clipPath id="hR"><rect x="460.5" y="500" width="600" height="400"/></clipPath></defs>
<defs><filter id="bl" x="-50%" y="-50%" width="200%" height="200%"><feGaussianBlur stdDeviation="3.5"/></filter><linearGradient id="stL" gradientUnits="userSpaceOnUse" x1="162.5" y1="0" x2="235.5" y2="0"><stop offset="0" stop-color="#9492ff"/><stop offset="1" stop-color="#4646f6"/></linearGradient><linearGradient id="dkL" gradientUnits="userSpaceOnUse" x1="0" y1="690" x2="0" y2="830"><stop offset="0" stop-color="#6c3a64"/><stop offset="1" stop-color="#743c62"/></linearGradient><clipPath id="cBL"><ellipse cx="336.5" cy="802" rx="174" ry="52.8"/></clipPath><clipPath id="cFL"><ellipse cx="336.5" cy="878.3" rx="174" ry="52.8"/></clipPath><linearGradient id="stR" gradientUnits="userSpaceOnUse" x1="758.5" y1="0" x2="685.5" y2="0"><stop offset="0" stop-color="#ff9c9c"/><stop offset="1" stop-color="#ff4848"/></linearGradient><linearGradient id="dkR" gradientUnits="userSpaceOnUse" x1="0" y1="690" x2="0" y2="830"><stop offset="0" stop-color="#56376c"/><stop offset="1" stop-color="#583a74"/></linearGradient><clipPath id="cBR"><ellipse cx="584.5" cy="802" rx="174" ry="52.8"/></clipPath><clipPath id="cFR"><ellipse cx="584.5" cy="878.3" rx="174" ry="52.8"/></clipPath><linearGradient id="shL" gradientUnits="userSpaceOnUse" x1="162.5" y1="0" x2="178.5" y2="0"><stop offset="0" stop-color="#fff" stop-opacity="0.5"/><stop offset="1" stop-color="#fff" stop-opacity="0"/></linearGradient><clipPath id="fbL"><path d="M163,878 C163,871.67 162.4,850.5 163,840 C163.6,829.5 165.3,822.83 166.6,815 C167.9,807.17 168.95,801.3 170.8,793 C172.65,784.7 175.17,774.45 177.7,765.2 C180.23,755.95 182.98,746.73 186,737.5 C189.02,728.27 192.32,718.12 195.8,709.8 C199.28,701.48 203.2,693.4 206.9,687.6 C210.6,681.8 216.15,677.1 218,675 C220.2,675.52 221.57,682.48 227.7,687.1 C233.83,691.72 243.93,696.28 255.5,700.9 C267.07,705.52 279.68,711.57 297.1,714.8 C314.52,718.03 341.1,720.1 360,720.3 C378.9,720.5 393.75,718.05 410.5,716 C427.25,713.95 452.17,709.33 460.5,708 L460.5,915.3 L336.5,931.0999999999999 Z"/><ellipse cx="336.5" cy="878.3" rx="174" ry="52.8"/></clipPath><linearGradient id="shR" gradientUnits="userSpaceOnUse" x1="758.5" y1="0" x2="742.5" y2="0"><stop offset="0" stop-color="#fff" stop-opacity="0.5"/><stop offset="1" stop-color="#fff" stop-opacity="0"/></linearGradient><clipPath id="fbR"><path d="M758,878 C758,871.67 758.6,850.5 758,840 C757.4,829.5 755.7,822.83 754.4,815 C753.1,807.17 752.05,801.3 750.2,793 C748.35,784.7 745.83,774.45 743.3,765.2 C740.77,755.95 738.02,746.73 735,737.5 C731.98,728.27 728.68,718.12 725.2,709.8 C721.72,701.48 717.8,693.4 714.1,687.6 C710.4,681.8 704.85,677.1 703,675 C700.8,675.52 699.43,682.48 693.3,687.1 C687.17,691.72 677.07,696.28 665.5,700.9 C653.93,705.52 641.32,711.57 623.9,714.8 C606.48,718.03 579.9,720.1 561,720.3 C542.1,720.5 527.25,718.05 510.5,716 C493.75,713.95 468.83,709.33 460.5,708 L460.5,915.3 L584.5,931.0999999999999 Z"/><ellipse cx="584.5" cy="878.3" rx="174" ry="52.8"/></clipPath><clipPath id="dkcL"><path d="M170.8,793 C171.95,788.37 175.17,774.45 177.7,765.2 C180.23,755.95 182.98,746.73 186,737.5 C189.02,728.27 192.32,718.12 195.8,709.8 C199.28,701.48 203.2,693.4 206.9,687.6 C210.6,681.8 216.15,677.1 218,675 C220.2,675.52 221.57,682.48 227.7,687.1 C233.83,691.72 243.93,696.28 255.5,700.9 C267.07,705.52 279.68,711.57 297.1,714.8 C314.52,718.03 341.1,720.1 360,720.3 C378.9,720.5 393.75,718.05 410.5,716 C427.25,713.95 452.17,709.33 460.5,708 L460.5,839.5 A174,52.8 0 0 1 336.5,854.8 A174,52.8 0 0 1 170.8,793 Z"/></clipPath><clipPath id="dkcR"><path d="M750.2,793 C749.05,788.37 745.83,774.45 743.3,765.2 C740.77,755.95 738.02,746.73 735,737.5 C731.98,728.27 728.68,718.12 725.2,709.8 C721.72,701.48 717.8,693.4 714.1,687.6 C710.4,681.8 704.85,677.1 703,675 C700.8,675.52 699.43,682.48 693.3,687.1 C687.17,691.72 677.07,696.28 665.5,700.9 C653.93,705.52 641.32,711.57 623.9,714.8 C606.48,718.03 579.9,720.1 561,720.3 C542.1,720.5 527.25,718.05 510.5,716 C493.75,713.95 468.83,709.33 460.5,708 L460.5,839.5 A174,52.8 0 0 0 584.5,854.8 A174,52.8 0 0 0 750.2,793 Z"/></clipPath></defs>
<path d="M162.5,801.3 C162.97,796.22 163.92,780.97 165.3,770.8 C166.68,760.63 168.73,750.47 170.8,740.3 C172.87,730.13 175.17,719.52 177.7,709.8 C180.23,700.08 182.77,691.25 186,682 C189.23,672.75 193.17,663.08 197.1,654.3 C201.03,645.52 205.9,636.23 209.6,629.3 C213.3,622.37 215.83,617.32 219.3,612.7 C222.77,608.08 225.77,605.3 230.4,601.6 C235.03,597.9 239.75,594.18 247.1,590.5 C254.45,586.82 263.93,582.42 274.5,579.5 C285.07,576.58 297.83,574.33 310.5,573 C323.17,571.67 335.5,571.75 350.5,571.5 C365.5,571.25 382.17,571 400.5,571.5 C418.83,572 450.5,574 460.5,574.5 L460.5,839.5 L336.5,854.8 Z" fill="url(#stL)"/>
<ellipse cx="336.5" cy="802" rx="174" ry="52.8" fill="url(#stL)"/>
<path d="M758.5,801.3 C758.03,796.22 757.08,780.97 755.7,770.8 C754.32,760.63 752.27,750.47 750.2,740.3 C748.13,730.13 745.83,719.52 743.3,709.8 C740.77,700.08 738.23,691.25 735,682 C731.77,672.75 727.83,663.08 723.9,654.3 C719.97,645.52 715.1,636.23 711.4,629.3 C707.7,622.37 705.17,617.32 701.7,612.7 C698.23,608.08 695.23,605.3 690.6,601.6 C685.97,597.9 681.25,594.18 673.9,590.5 C666.55,586.82 657.07,582.42 646.5,579.5 C635.93,576.58 623.17,574.33 610.5,573 C597.83,571.67 585.5,571.75 570.5,571.5 C555.5,571.25 538.83,571 520.5,571.5 C502.17,572 470.5,574 460.5,574.5 L460.5,839.5 L584.5,854.8 Z" fill="url(#stR)"/>
<ellipse cx="584.5" cy="802" rx="174" ry="52.8" fill="url(#stR)"/>
<path d="M163,878 C163,871.67 162.4,850.5 163,840 C163.6,829.5 165.3,822.83 166.6,815 C167.9,807.17 168.95,801.3 170.8,793 C172.65,784.7 175.17,774.45 177.7,765.2 C180.23,755.95 182.98,746.73 186,737.5 C189.02,728.27 192.32,718.12 195.8,709.8 C199.28,701.48 203.2,693.4 206.9,687.6 C210.6,681.8 216.15,677.1 218,675 C220.2,675.52 221.57,682.48 227.7,687.1 C233.83,691.72 243.93,696.28 255.5,700.9 C267.07,705.52 279.68,711.57 297.1,714.8 C314.52,718.03 341.1,720.1 360,720.3 C378.9,720.5 393.75,718.05 410.5,716 C427.25,713.95 452.17,709.33 460.5,708 L460.5,915.3 L336.5,931.0999999999999 Z" fill="#fa6a70"/>
<ellipse cx="336.5" cy="878.3" rx="174" ry="52.8" fill="#fa6a70"/>
<rect x="162.5" y="800" width="18" height="110" fill="url(#shL)" clip-path="url(#fbL)"/>
<path d="M758,878 C758,871.67 758.6,850.5 758,840 C757.4,829.5 755.7,822.83 754.4,815 C753.1,807.17 752.05,801.3 750.2,793 C748.35,784.7 745.83,774.45 743.3,765.2 C740.77,755.95 738.02,746.73 735,737.5 C731.98,728.27 728.68,718.12 725.2,709.8 C721.72,701.48 717.8,693.4 714.1,687.6 C710.4,681.8 704.85,677.1 703,675 C700.8,675.52 699.43,682.48 693.3,687.1 C687.17,691.72 677.07,696.28 665.5,700.9 C653.93,705.52 641.32,711.57 623.9,714.8 C606.48,718.03 579.9,720.1 561,720.3 C542.1,720.5 527.25,718.05 510.5,716 C493.75,713.95 468.83,709.33 460.5,708 L460.5,915.3 L584.5,931.0999999999999 Z" fill="#6f6ffa"/>
<ellipse cx="584.5" cy="878.3" rx="174" ry="52.8" fill="#6f6ffa"/>
<rect x="740.5" y="800" width="18" height="110" fill="url(#shR)" clip-path="url(#fbR)"/>
<path d="M170.8,793 C171.95,788.37 175.17,774.45 177.7,765.2 C180.23,755.95 182.98,746.73 186,737.5 C189.02,728.27 192.32,718.12 195.8,709.8 C199.28,701.48 203.2,693.4 206.9,687.6 C210.6,681.8 216.15,677.1 218,675 C220.2,675.52 221.57,682.48 227.7,687.1 C233.83,691.72 243.93,696.28 255.5,700.9 C267.07,705.52 279.68,711.57 297.1,714.8 C314.52,718.03 341.1,720.1 360,720.3 C378.9,720.5 393.75,718.05 410.5,716 C427.25,713.95 452.17,709.33 460.5,708 L460.5,839.5 A174,52.8 0 0 1 336.5,854.8 A174,52.8 0 0 1 170.8,793 Z" fill="url(#dkL)"/>
<g clip-path="url(#dkcL)"><ellipse cx="336.5" cy="802" rx="174" ry="52.8" fill="#8a4060"/></g>
<g clip-path="url(#dkcL)"><path d="M170.8,793 C171.95,788.37 175.17,774.45 177.7,765.2 C180.23,755.95 182.98,746.73 186,737.5 C189.02,728.27 192.32,718.12 195.8,709.8 C199.28,701.48 203.2,693.4 206.9,687.6 C210.6,681.8 216.15,677.1 218,675" fill="none" stroke="#d8c0d0" stroke-width="16" stroke-opacity="0.45" filter="url(#bl)"/></g>
<ellipse cx="336.5" cy="878.3" rx="174" ry="52.8" fill="#87468a" clip-path="url(#cBL)"/>
<path d="M750.2,793 C749.05,788.37 745.83,774.45 743.3,765.2 C740.77,755.95 738.02,746.73 735,737.5 C731.98,728.27 728.68,718.12 725.2,709.8 C721.72,701.48 717.8,693.4 714.1,687.6 C710.4,681.8 704.85,677.1 703,675 C700.8,675.52 699.43,682.48 693.3,687.1 C687.17,691.72 677.07,696.28 665.5,700.9 C653.93,705.52 641.32,711.57 623.9,714.8 C606.48,718.03 579.9,720.1 561,720.3 C542.1,720.5 527.25,718.05 510.5,716 C493.75,713.95 468.83,709.33 460.5,708 L460.5,839.5 A174,52.8 0 0 0 584.5,854.8 A174,52.8 0 0 0 750.2,793 Z" fill="url(#dkR)"/>
<g clip-path="url(#dkcR)"><ellipse cx="584.5" cy="802" rx="174" ry="52.8" fill="#5c3e8c"/></g>
<g clip-path="url(#dkcR)"><path d="M750.2,793 C749.05,788.37 745.83,774.45 743.3,765.2 C740.77,755.95 738.02,746.73 735,737.5 C731.98,728.27 728.68,718.12 725.2,709.8 C721.72,701.48 717.8,693.4 714.1,687.6 C710.4,681.8 704.85,677.1 703,675" fill="none" stroke="#c8c0e0" stroke-width="16" stroke-opacity="0.45" filter="url(#bl)"/></g>
<ellipse cx="584.5" cy="878.3" rx="174" ry="52.8" fill="#82468a" clip-path="url(#cBR)"/>
<g clip-path="url(#cBL)"><ellipse cx="584.5" cy="802" rx="174" ry="52.8" fill="#85457f"/></g>
<g clip-path="url(#cFL)"><ellipse cx="584.5" cy="878.3" rx="174" ry="52.8" fill="#7c3585"/></g>
<path d="M460.5,574.5 C442.17,571.75 418.83,572 400.5,571.5 C382.17,571 365.5,571.25 350.5,571.5 C335.5,571.75 323.17,571.67 310.5,573 C297.83,574.33 285.07,576.58 274.5,579.5 C263.93,582.42 254.45,586.82 247.1,590.5 C239.75,594.18 234.78,598.22 230.4,601.6 C226.02,604.98 222.75,608.12 220.8,610.8 C218.85,613.48 218.47,614.93 218.7,617.7 C218.93,620.47 220,623.93 222.2,627.4 C224.4,630.87 228.43,635.48 231.9,638.5 C235.37,641.52 237.92,642.48 243,645.5 C248.08,648.52 255.7,653.13 262.4,656.6 C269.1,660.07 275.12,662.85 283.2,666.3 C291.28,669.75 301.67,674.07 310.9,677.3 C320.13,680.53 330.42,683.62 338.6,685.7 C346.78,687.78 348.02,687.58 360,689.8 C371.98,692.02 393.75,695.97 410.5,699 C427.25,702.03 443.83,705.17 460.5,708 C477.17,710.83 493.75,713.95 510.5,716 C527.25,718.05 542.1,720.5 561,720.3 C579.9,720.1 606.48,718.03 623.9,714.8 C641.32,711.57 653.93,705.52 665.5,700.9 C677.07,696.28 687.17,691.72 693.3,687.1 C699.43,682.48 701.85,677.83 702.3,673.2 C702.75,668.57 700.05,663.92 696,659.3 C691.95,654.68 685.38,650.12 678,645.5 C670.62,640.88 663.02,636.47 651.7,631.6 C640.38,626.73 625.22,621.15 610.1,616.3 C594.98,611.45 577.6,607.22 561,602.5 C544.4,597.78 527.25,592.67 510.5,588 C493.75,583.33 478.83,577.25 460.5,574.5 Z" fill="#acacff"/>
<path d="M460.5,574.5 C478.83,571.75 502.17,572 520.5,571.5 C538.83,571 555.5,571.25 570.5,571.5 C585.5,571.75 597.83,571.67 610.5,573 C623.17,574.33 635.93,576.58 646.5,579.5 C657.07,582.42 666.55,586.82 673.9,590.5 C681.25,594.18 686.22,598.22 690.6,601.6 C694.98,604.98 698.25,608.12 700.2,610.8 C702.15,613.48 702.53,614.93 702.3,617.7 C702.07,620.47 701,623.93 698.8,627.4 C696.6,630.87 692.57,635.48 689.1,638.5 C685.63,641.52 683.08,642.48 678,645.5 C672.92,648.52 665.3,653.13 658.6,656.6 C651.9,660.07 645.88,662.85 637.8,666.3 C629.72,669.75 619.33,674.07 610.1,677.3 C600.87,680.53 590.58,683.62 582.4,685.7 C574.22,687.78 572.98,687.58 561,689.8 C549.02,692.02 527.25,695.97 510.5,699 C493.75,702.03 477.17,705.17 460.5,708 C443.83,710.83 427.25,713.95 410.5,716 C393.75,718.05 378.9,720.5 360,720.3 C341.1,720.1 314.52,718.03 297.1,714.8 C279.68,711.57 267.07,705.52 255.5,700.9 C243.93,696.28 233.83,691.72 227.7,687.1 C221.57,682.48 219.15,677.83 218.7,673.2 C218.25,668.57 220.95,663.92 225,659.3 C229.05,654.68 235.62,650.12 243,645.5 C250.38,640.88 257.98,636.47 269.3,631.6 C280.62,626.73 295.78,621.15 310.9,616.3 C326.02,611.45 343.4,607.22 360,602.5 C376.6,597.78 393.75,592.67 410.5,588 C427.25,583.33 442.17,577.25 460.5,574.5 Z" fill="#ffacac"/>
<g clip-path="url(#hL)"><path d="M460.5,574.5 C478.83,571.75 502.17,572 520.5,571.5 C538.83,571 555.5,571.25 570.5,571.5 C585.5,571.75 597.83,571.67 610.5,573 C623.17,574.33 635.93,576.58 646.5,579.5 C657.07,582.42 666.55,586.82 673.9,590.5 C681.25,594.18 686.22,598.22 690.6,601.6 C694.98,604.98 698.25,608.12 700.2,610.8 C702.15,613.48 702.53,614.93 702.3,617.7 C702.07,620.47 701,623.93 698.8,627.4 C696.6,630.87 692.57,635.48 689.1,638.5 C685.63,641.52 683.08,642.48 678,645.5 C672.92,648.52 665.3,653.13 658.6,656.6 C651.9,660.07 645.88,662.85 637.8,666.3 C629.72,669.75 619.33,674.07 610.1,677.3 C600.87,680.53 590.58,683.62 582.4,685.7 C574.22,687.78 572.98,687.58 561,689.8 C549.02,692.02 527.25,695.97 510.5,699 C493.75,702.03 477.17,705.17 460.5,708 C443.83,710.83 427.25,713.95 410.5,716 C393.75,718.05 378.9,720.5 360,720.3 C341.1,720.1 314.52,718.03 297.1,714.8 C279.68,711.57 267.07,705.52 255.5,700.9 C243.93,696.28 233.83,691.72 227.7,687.1 C221.57,682.48 219.15,677.83 218.7,673.2 C218.25,668.57 220.95,663.92 225,659.3 C229.05,654.68 235.62,650.12 243,645.5 C250.38,640.88 257.98,636.47 269.3,631.6 C280.62,626.73 295.78,621.15 310.9,616.3 C326.02,611.45 343.4,607.22 360,602.5 C376.6,597.78 393.75,592.67 410.5,588 C427.25,583.33 442.17,577.25 460.5,574.5 Z" fill="#9583b5"/></g>
<g clip-path="url(#hR)"><path d="M460.5,574.5 C442.17,571.75 418.83,572 400.5,571.5 C382.17,571 365.5,571.25 350.5,571.5 C335.5,571.75 323.17,571.67 310.5,573 C297.83,574.33 285.07,576.58 274.5,579.5 C263.93,582.42 254.45,586.82 247.1,590.5 C239.75,594.18 234.78,598.22 230.4,601.6 C226.02,604.98 222.75,608.12 220.8,610.8 C218.85,613.48 218.47,614.93 218.7,617.7 C218.93,620.47 220,623.93 222.2,627.4 C224.4,630.87 228.43,635.48 231.9,638.5 C235.37,641.52 237.92,642.48 243,645.5 C248.08,648.52 255.7,653.13 262.4,656.6 C269.1,660.07 275.12,662.85 283.2,666.3 C291.28,669.75 301.67,674.07 310.9,677.3 C320.13,680.53 330.42,683.62 338.6,685.7 C346.78,687.78 348.02,687.58 360,689.8 C371.98,692.02 393.75,695.97 410.5,699 C427.25,702.03 443.83,705.17 460.5,708 C477.17,710.83 493.75,713.95 510.5,716 C527.25,718.05 542.1,720.5 561,720.3 C579.9,720.1 606.48,718.03 623.9,714.8 C641.32,711.57 653.93,705.52 665.5,700.9 C677.07,696.28 687.17,691.72 693.3,687.1 C699.43,682.48 701.85,677.83 702.3,673.2 C702.75,668.57 700.05,663.92 696,659.3 C691.95,654.68 685.38,650.12 678,645.5 C670.62,640.88 663.02,636.47 651.7,631.6 C640.38,626.73 625.22,621.15 610.1,616.3 C594.98,611.45 577.6,607.22 561,602.5 C544.4,597.78 527.25,592.67 510.5,588 C493.75,583.33 478.83,577.25 460.5,574.5 Z" fill="#b2838f"/></g>
<g clip-path="url(#fcB)"><path d="M460.5,574.5 C478.83,571.75 502.17,572 520.5,571.5 C538.83,571 555.5,571.25 570.5,571.5 C585.5,571.75 597.83,571.67 610.5,573 C623.17,574.33 635.93,576.58 646.5,579.5 C657.07,582.42 666.55,586.82 673.9,590.5 C681.25,594.18 686.22,598.22 690.6,601.6 C694.98,604.98 698.25,608.12 700.2,610.8 C702.15,613.48 702.53,614.93 702.3,617.7 C702.07,620.47 701,623.93 698.8,627.4 C696.6,630.87 692.57,635.48 689.1,638.5 C685.63,641.52 683.08,642.48 678,645.5 C672.92,648.52 665.3,653.13 658.6,656.6 C651.9,660.07 645.88,662.85 637.8,666.3 C629.72,669.75 619.33,674.07 610.1,677.3 C600.87,680.53 590.58,683.62 582.4,685.7 C574.22,687.78 572.98,687.58 561,689.8 C549.02,692.02 527.25,695.97 510.5,699 C493.75,702.03 477.17,705.17 460.5,708 C443.83,710.83 427.25,713.95 410.5,716 C393.75,718.05 378.9,720.5 360,720.3 C341.1,720.1 314.52,718.03 297.1,714.8 C279.68,711.57 267.07,705.52 255.5,700.9 C243.93,696.28 233.83,691.72 227.7,687.1 C221.57,682.48 219.15,677.83 218.7,673.2 C218.25,668.57 220.95,663.92 225,659.3 C229.05,654.68 235.62,650.12 243,645.5 C250.38,640.88 257.98,636.47 269.3,631.6 C280.62,626.73 295.78,621.15 310.9,616.3 C326.02,611.45 343.4,607.22 360,602.5 C376.6,597.78 393.75,592.67 410.5,588 C427.25,583.33 442.17,577.25 460.5,574.5 Z" fill="#bea6c3"/></g>
<ellipse cx="336.5" cy="802" rx="174" ry="52.8" fill="none" stroke="#1c1420" stroke-width="1.9" stroke-opacity="0.9"/>
<ellipse cx="336.5" cy="878.3" rx="174" ry="52.8" fill="none" stroke="#1c1420" stroke-width="1.9" stroke-opacity="0.9"/>
<ellipse cx="584.5" cy="802" rx="174" ry="52.8" fill="none" stroke="#1c1420" stroke-width="1.9" stroke-opacity="0.9"/>
<ellipse cx="584.5" cy="878.3" rx="174" ry="52.8" fill="none" stroke="#1c1420" stroke-width="1.9" stroke-opacity="0.9"/>
<path d="M385.5,818 L409.41,832 L410.57,828.27 L499.35,856.12 L498.18,859.84 L525.8,862 L501.89,848 L500.73,851.73 L411.95,823.88 L413.12,820.16 Z" fill="#ff2a2a" fill-opacity="0.8"/>
<path d="M389.1,862 L416.73,860.01 L415.59,856.28 L503.56,829.31 L504.7,833.04 L528.7,819.2 L501.07,821.19 L502.21,824.92 L414.24,851.89 L413.1,848.16 Z" fill="#3030ff" fill-opacity="0.8"/>
<ellipse cx="459.8" cy="645.8" rx="279" ry="88" fill="none" stroke="#000" stroke-width="2.8"/>
<path d="M459.8,464 L459.8,646" stroke="#000" stroke-width="2.7" stroke-opacity="1" fill="none"/>
<path d="M459.8,646 L459.8,839.5" stroke="#000" stroke-width="1.8" stroke-opacity="0.55" fill="none"/>
<path d="M568.5,524 L568.5,757" stroke="#000" stroke-width="2.7" stroke-opacity="1" fill="none"/>
<path d="M568.5,757 L568.5,918.9" stroke="#000" stroke-width="2.2" stroke-opacity="0.9" fill="none"/>
<path d="M568.5,524 L513,684" stroke="#000" stroke-width="2.7" stroke-opacity="1" fill="none"/>
<path d="M513,684 L460.5,839.5" stroke="#000" stroke-width="1.8" stroke-opacity="0.6" fill="none"/>
<path d="M460.5,839.5 L215.37,916.2" stroke="#000" stroke-width="1.7" stroke-opacity="0.85" fill="none"/>
<path d="M215.37,916.2 L94.9,953.9" stroke="#000" stroke-width="2.7" stroke-opacity="1" fill="none"/>
<path d="M460.5,839.5 L705.31,916.3" stroke="#000" stroke-width="1.7" stroke-opacity="0.85" fill="none"/>
<path d="M705.31,916.3 L827.4,954.6" stroke="#000" stroke-width="2.7" stroke-opacity="1" fill="none"/>
<path d="M460.5,839.5 L583.71,931.1" stroke="#000" stroke-width="1.7" stroke-opacity="0.85" fill="none"/>
<path d="M583.71,931.1 L642.9,975.1" stroke="#000" stroke-width="2.7" stroke-opacity="1" fill="none"/>
<path d="M459.8,546 Q497,575 519,668" stroke="#000" stroke-width="2.7" fill="none"/>
<path d="M155,937 Q380,1000 624,965" stroke="#000" stroke-width="2.7" fill="none"/>
<text transform="translate(425.2,495.9) scale(1.2,1)" font-family="'DejaVu Sans','Liberation Sans',sans-serif" font-size="29.5" fill="#000">z</text><path d="M426.7,474.6 L434.2,469.8 L441.7,474.6" stroke="#000" stroke-width="2.3" fill="none"/>
<text x="499" y="540.3" font-family="'DejaVu Sans','Liberation Sans',sans-serif" font-size="33" fill="#000">θ</text>
<text x="68.6" y="941.4" font-family="'DejaVu Sans','Liberation Sans',sans-serif" font-size="31" fill="#000" transform="translate(-3.4,0) scale(1.05,1)">x</text><path d="M71.1,921.4 L78.6,916.6 L86.1,921.4" stroke="#000" stroke-width="2.3" fill="none"/>
<text x="828" y="941.4" font-family="'DejaVu Sans','Liberation Sans',sans-serif" font-size="31" fill="#000">y</text><path d="M830.0,921.4 L837.5,916.6 L845.0,921.4" stroke="#000" stroke-width="2.3" fill="none"/>
<text x="205.5" y="1000.3" font-family="'DejaVu Sans','Liberation Sans',sans-serif" font-size="35" fill="#000">φ</text>
</svg>
</body></html>
